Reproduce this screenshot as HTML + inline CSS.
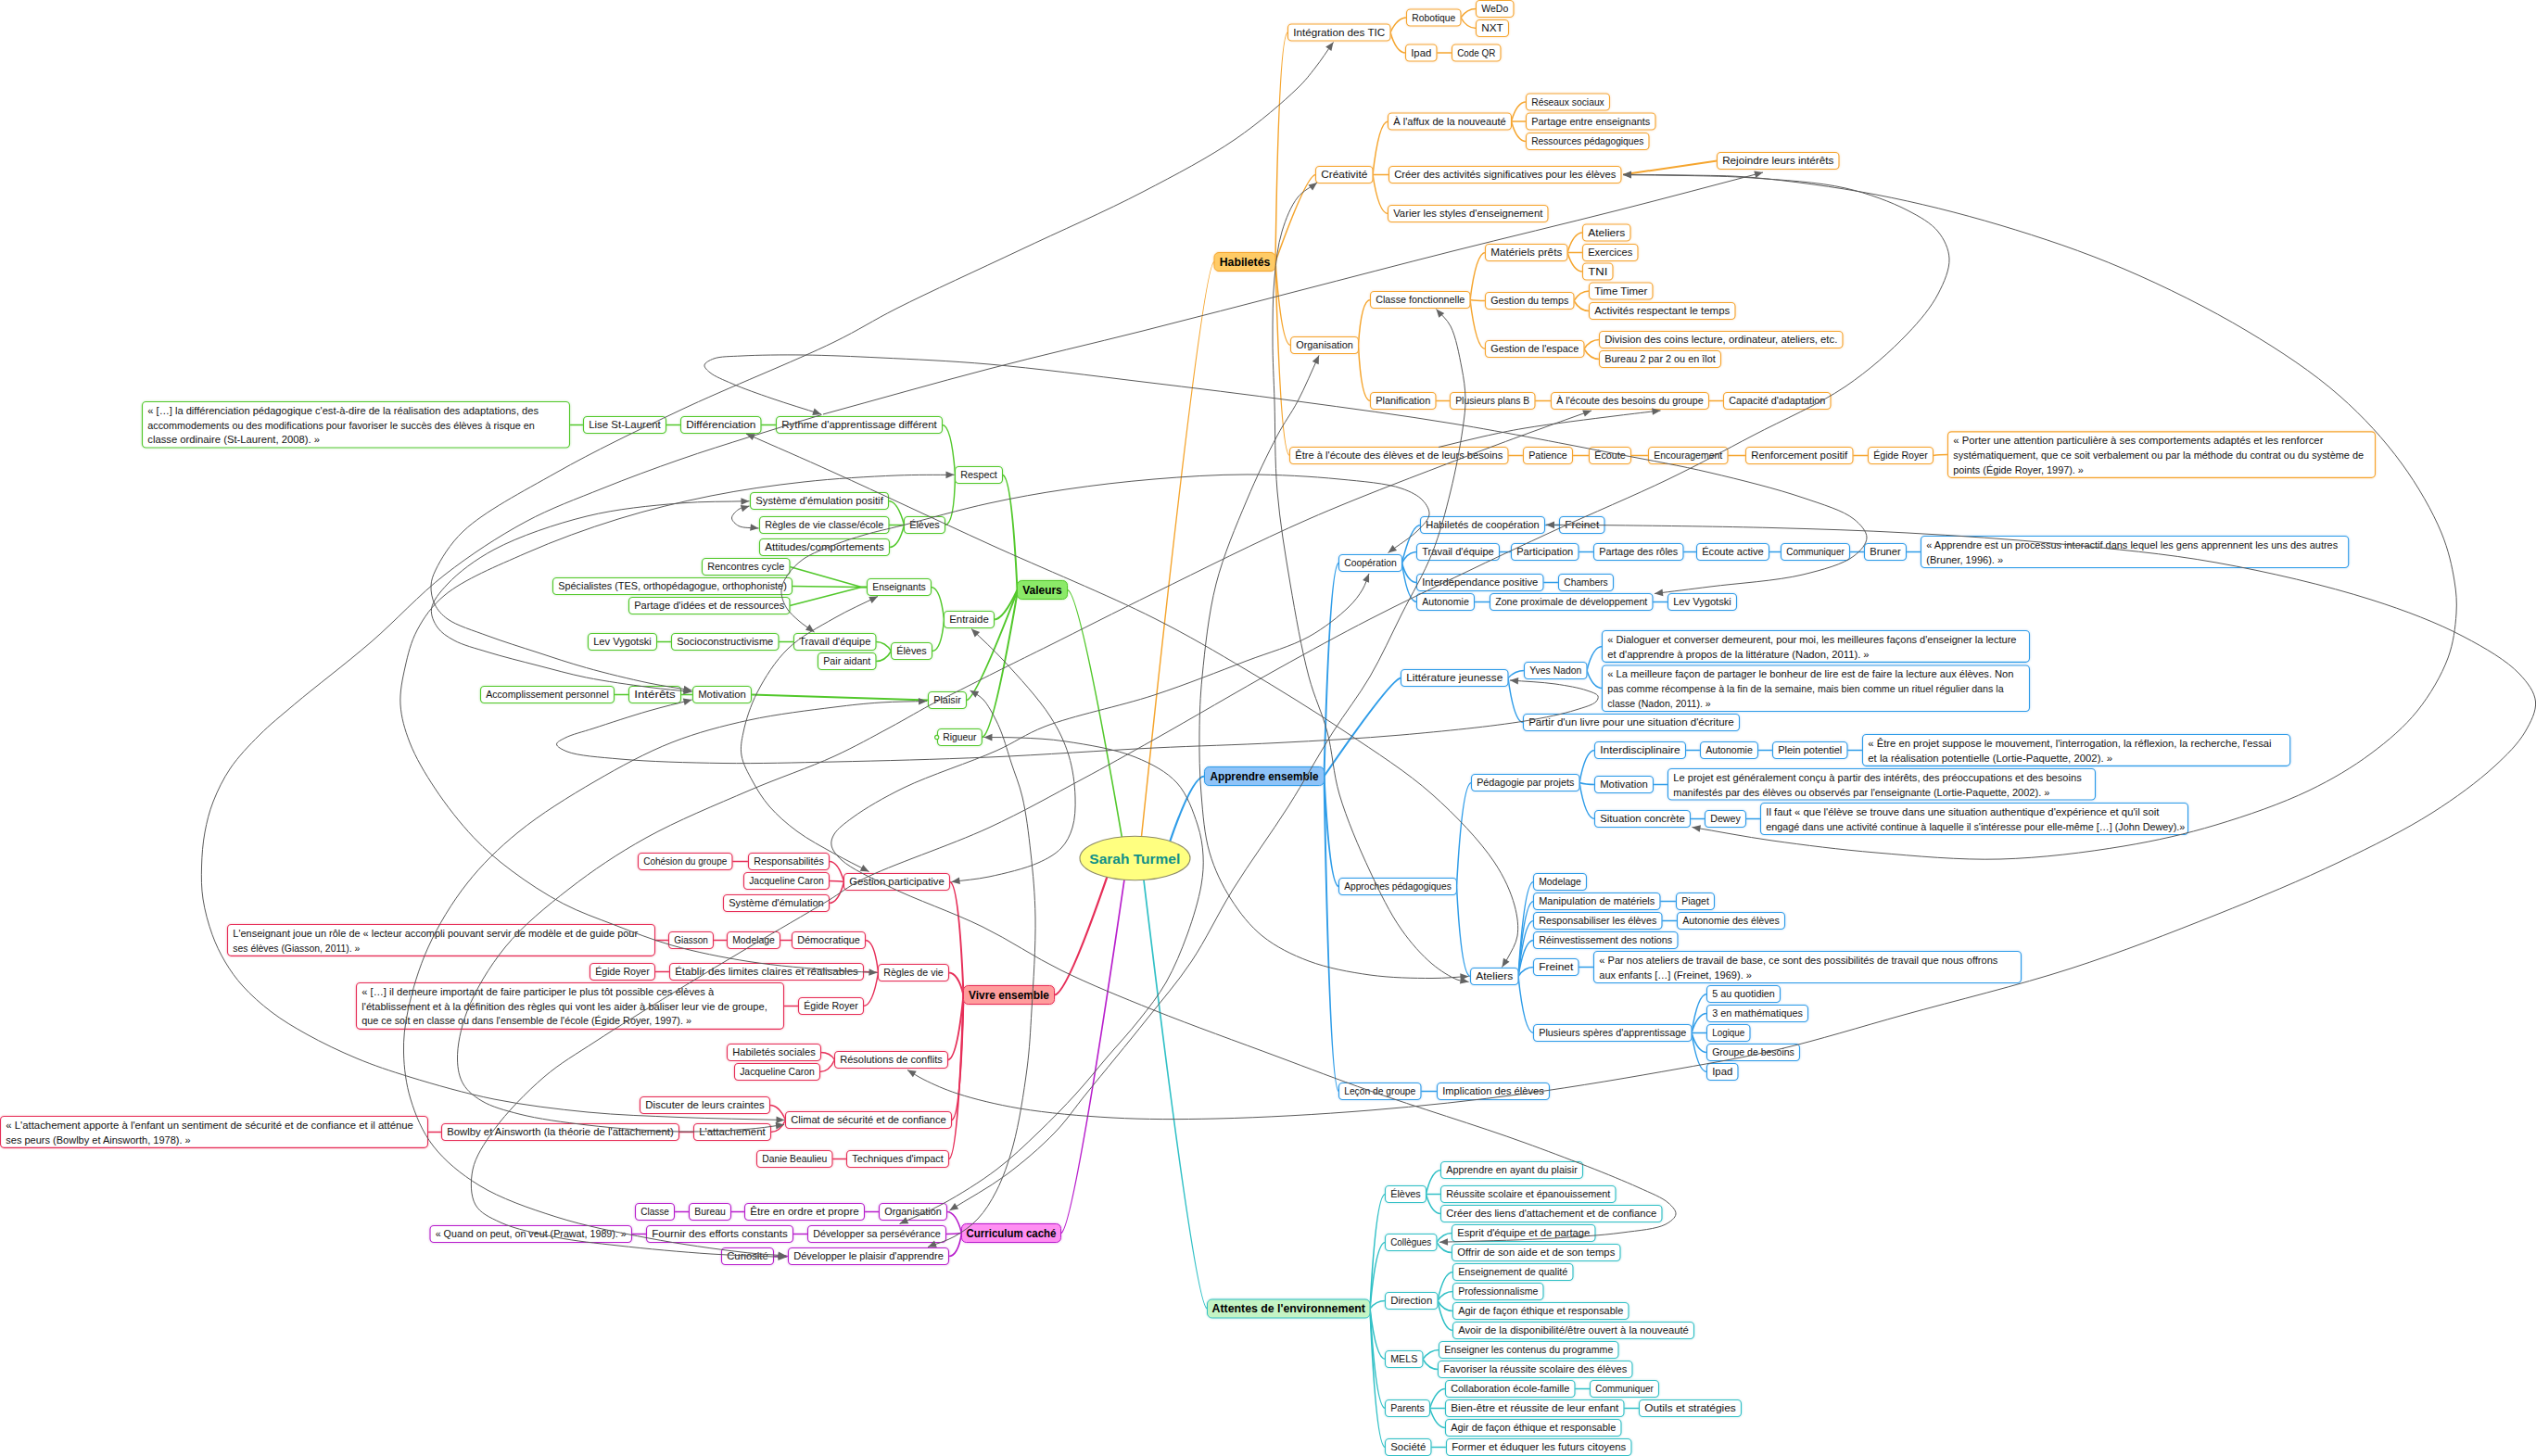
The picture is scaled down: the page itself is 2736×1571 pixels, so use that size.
<!DOCTYPE html>
<html lang="fr"><head><meta charset="utf-8"><title>Sarah Turmel</title>
<style>
html,body{margin:0;padding:0;background:#fff;overflow:hidden}
svg{display:block}
text{font-family:"Liberation Sans",sans-serif;font-size:10.9px;fill:#111}
.n{fill:#fff;stroke-width:1.15}
.e{fill:none;stroke-width:1.5;stroke-linecap:round}
.e2{fill:none;stroke-width:2;stroke-linecap:round}
.k{fill:none;stroke:#5a5a5a;stroke-width:1}
.a{fill:#636363;stroke:none}
.mt{font-weight:bold;font-size:12px;fill:#000}
.o{stroke:#F5A52E}
.b{stroke:#2E9CE8}
.g{stroke:#52C82B}
.r{stroke:#E62E58}
.m{stroke:#B81ECC}
.t{stroke:#30C0C6}
</style></head>
<body>
<svg width="2736" height="1571" viewBox="0 0 2736 1571">
<defs><filter id="gl" x="0" y="0" width="2736" height="1571" filterUnits="userSpaceOnUse"><feGaussianBlur in="SourceGraphic" stdDeviation="0.9" result="b"/><feComponentTransfer in="b" result="b2"><feFuncA type="linear" slope="0.55"/></feComponentTransfer><feMerge><feMergeNode in="b2"/><feMergeNode in="SourceGraphic"/></feMerge></filter></defs>
<rect width="2736" height="1571" fill="#fff"/>
<g id="branches">
<path class="e g" style="stroke-width:1.6" d="M1210.4 903.5 Q1164.5 636.5 1151.5 636.5"/>
<path class="e o" style="stroke-width:1.5" d="M1231.5 902.7 Q1297 282.5 1310 282.5"/>
<path class="e b" style="stroke-width:2.1" d="M1262.4 907.3 Q1286.5 837.5 1299.5 837.5"/>
<path class="e r" style="stroke-width:2.2" d="M1194.3 946.4 Q1150.5 1073.5 1137.5 1073.5"/>
<path class="e m" style="stroke-width:1.7" d="M1213.1 948.5 Q1157.5 1330.5 1144.5 1330.5"/>
<path class="e t" style="stroke-width:1.7" d="M1234 949.8 Q1289.5 1412 1302.5 1412"/>
</g>
<g id="edges">
<path class="e o" style="stroke-width:1.5" d="M1376 282.5 Q1379.5 35 1389.5 35"/>
<path class="e o" d="M1500 35 Q1507.5 19 1517.5 19"/>
<path class="e o" d="M1576 19 Q1582.5 9.5 1592.5 9.5"/>
<path class="e o" d="M1576 19 Q1582.5 30.5 1592.5 30.5"/>
<path class="e o" d="M1500 35 Q1506.5 57 1516.5 57"/>
<path class="e o" d="M1550 57 H1566.5"/>
<path class="e o" style="stroke-width:1.5" d="M1376 282.5 Q1409.5 188.5 1419.5 188.5"/>
<path class="e o" d="M1481 188.5 Q1487.5 131 1497.5 131"/>
<path class="e o" d="M1630.5 131 Q1636.5 110 1646.5 110"/>
<path class="e o" d="M1630.5 131 H1646.5"/>
<path class="e o" d="M1630.5 131 Q1636.5 152.5 1646.5 152.5"/>
<path class="e o" d="M1481 188.5 H1498.5"/>
<path class="e o" d="M1481 188.5 Q1487.5 230.5 1497.5 230.5"/>
<path class="e o" style="stroke-width:1.5" d="M1376 282.5 Q1382.5 372.5 1392.5 372.5"/>
<path class="e o" d="M1465.5 372.5 Q1468.5 323.5 1478.5 323.5"/>
<path class="e o" d="M1586 323.5 Q1592.5 272.5 1602.5 272.5"/>
<path class="e o" d="M1691 272.5 Q1697.5 251 1707.5 251"/>
<path class="e o" d="M1691 272.5 H1707.5"/>
<path class="e o" d="M1691 272.5 Q1697.5 293 1707.5 293"/>
<path class="e o" d="M1586 323.5 Q1592.5 324.5 1602.5 324.5"/>
<path class="e o" d="M1698 324.5 Q1704.5 314 1714.5 314"/>
<path class="e o" d="M1698 324.5 Q1704.5 335.5 1714.5 335.5"/>
<path class="e o" d="M1586 323.5 Q1592.5 376.5 1602.5 376.5"/>
<path class="e o" d="M1709 376.5 Q1715.5 366.5 1725.5 366.5"/>
<path class="e o" d="M1709 376.5 Q1715.5 387.5 1725.5 387.5"/>
<path class="e o" d="M1465.5 372.5 Q1468.5 432.5 1478.5 432.5"/>
<path class="e o" d="M1549 432.5 H1564.5"/>
<path class="e o" d="M1656 432.5 H1673.5"/>
<path class="e o" d="M1843.5 432.5 H1859.5"/>
<path class="e o" style="stroke-width:1.5" d="M1376 282.5 Q1381.5 491.5 1391.5 491.5"/>
<path class="e o" d="M1627 491.5 H1643.5"/>
<path class="e o" d="M1696.5 491.5 H1714.5"/>
<path class="e o" d="M1759.5 491.5 H1778.5"/>
<path class="e o" d="M1864 491.5 H1883.5"/>
<path class="e o" d="M1999 491.5 H2015.5"/>
<path class="e o" d="M2085.5 491.5 Q2091.5 490.5 2101.5 490.5"/>
<path class="e b" style="stroke-width:2.0" d="M1428.5 837.5 Q1434.5 607.5 1444.5 607.5"/>
<path class="e b" d="M1512.5 607.5 Q1522.5 566.5 1532.5 566.5"/>
<path class="e b" d="M1666.5 566.5 H1682.5"/>
<path class="e b" d="M1512.5 607.5 Q1518.5 595.5 1528.5 595.5"/>
<path class="e b" d="M1617.5 595.5 H1630.5"/>
<path class="e b" d="M1703 595.5 H1719.5"/>
<path class="e b" d="M1816 595.5 H1830.5"/>
<path class="e b" d="M1908.5 595.5 H1921.5"/>
<path class="e b" d="M1995.5 595.5 H2011.5"/>
<path class="e b" d="M2056.5 595.5 H2072.5"/>
<path class="e b" d="M1512.5 607.5 Q1518.5 628.5 1528.5 628.5"/>
<path class="e b" d="M1665 628.5 H1681.5"/>
<path class="e b" d="M1512.5 607.5 Q1518.5 649.5 1528.5 649.5"/>
<path class="e b" d="M1590.5 649.5 H1607.5"/>
<path class="e b" d="M1783 649.5 H1799.5"/>
<path class="e b" style="stroke-width:2.0" d="M1428.5 837.5 Q1501.5 731.5 1511.5 731.5"/>
<path class="e b" d="M1627 731.5 Q1634.5 723.5 1644.5 723.5"/>
<path class="e b" d="M1712 723.5 Q1718.5 697.5 1728.5 697.5"/>
<path class="e b" d="M1712 723.5 Q1718.5 742.5 1728.5 742.5"/>
<path class="e b" d="M1627 731.5 Q1633.5 779.5 1643.5 779.5"/>
<path class="e b" style="stroke-width:2.0" d="M1428.5 837.5 Q1434.5 956.5 1444.5 956.5"/>
<path class="e b" d="M1571.5 956.5 Q1577.5 844.5 1587.5 844.5"/>
<path class="e b" d="M1704 844.5 Q1710.5 809.5 1720.5 809.5"/>
<path class="e b" d="M1818.5 809.5 H1834.5"/>
<path class="e b" d="M1896.5 809.5 H1912.5"/>
<path class="e b" d="M1993 809.5 H2009.5"/>
<path class="e b" d="M1704 844.5 Q1710.5 846.5 1720.5 846.5"/>
<path class="e b" d="M1783.5 846.5 H1799.5"/>
<path class="e b" d="M1704 844.5 Q1710.5 883.5 1720.5 883.5"/>
<path class="e b" d="M1823.5 883.5 H1839.5"/>
<path class="e b" d="M1883.5 883.5 H1899.5"/>
<path class="e b" d="M1571.5 956.5 Q1576.5 1053.5 1586.5 1053.5"/>
<path class="e b" d="M1638 1053.5 Q1644.5 951.5 1654.5 951.5"/>
<path class="e b" d="M1638 1053.5 Q1644.5 972.5 1654.5 972.5"/>
<path class="e b" d="M1791 972.5 H1808.5"/>
<path class="e b" d="M1638 1053.5 Q1644.5 993.5 1654.5 993.5"/>
<path class="e b" d="M1793 993.5 H1809.5"/>
<path class="e b" d="M1638 1053.5 Q1644.5 1014.5 1654.5 1014.5"/>
<path class="e b" d="M1638 1053.5 Q1644.5 1043.5 1654.5 1043.5"/>
<path class="e b" d="M1703 1043.5 H1719.5"/>
<path class="e b" d="M1638 1053.5 Q1644.5 1114.5 1654.5 1114.5"/>
<path class="e b" d="M1825 1114.5 Q1831.5 1072.5 1841.5 1072.5"/>
<path class="e b" d="M1825 1114.5 Q1831.5 1093.5 1841.5 1093.5"/>
<path class="e b" d="M1825 1114.5 H1841.5"/>
<path class="e b" d="M1825 1114.5 Q1831.5 1135.5 1841.5 1135.5"/>
<path class="e b" d="M1825 1114.5 Q1831.5 1156.5 1841.5 1156.5"/>
<path class="e b" style="stroke-width:2.0" d="M1428.5 837.5 Q1434.5 1177.5 1444.5 1177.5"/>
<path class="e b" d="M1533 1177.5 H1550.5"/>
<path class="e t" style="stroke-width:1.6" d="M1478 1412 Q1484.5 1288.5 1494.5 1288.5"/>
<path class="e t" d="M1538.5 1288.5 Q1544.5 1262.5 1554.5 1262.5"/>
<path class="e t" d="M1538.5 1288.5 H1554.5"/>
<path class="e t" d="M1538.5 1288.5 Q1544.5 1309.5 1554.5 1309.5"/>
<path class="e t" style="stroke-width:1.6" d="M1478 1412 Q1484.5 1340.5 1494.5 1340.5"/>
<path class="e t" d="M1550 1340.5 Q1556.5 1330.5 1566.5 1330.5"/>
<path class="e t" d="M1550 1340.5 Q1556.5 1351.5 1566.5 1351.5"/>
<path class="e t" style="stroke-width:1.6" d="M1478 1412 Q1484.5 1403.5 1494.5 1403.5"/>
<path class="e t" d="M1551 1403.5 Q1557.5 1372.5 1567.5 1372.5"/>
<path class="e t" d="M1551 1403.5 Q1557.5 1393.5 1567.5 1393.5"/>
<path class="e t" d="M1551 1403.5 Q1557.5 1414.5 1567.5 1414.5"/>
<path class="e t" d="M1551 1403.5 Q1557.5 1435.5 1567.5 1435.5"/>
<path class="e t" style="stroke-width:1.6" d="M1478 1412 Q1484.5 1466.5 1494.5 1466.5"/>
<path class="e t" d="M1535 1466.5 Q1542.5 1456.5 1552.5 1456.5"/>
<path class="e t" d="M1535 1466.5 Q1541.5 1477.5 1551.5 1477.5"/>
<path class="e t" style="stroke-width:1.6" d="M1478 1412 Q1484.5 1519.5 1494.5 1519.5"/>
<path class="e t" d="M1542.5 1519.5 Q1549.5 1498.5 1559.5 1498.5"/>
<path class="e t" d="M1699 1498.5 H1715.5"/>
<path class="e t" d="M1542.5 1519.5 H1559.5"/>
<path class="e t" d="M1752 1519.5 H1768.5"/>
<path class="e t" d="M1542.5 1519.5 Q1549.5 1540.5 1559.5 1540.5"/>
<path class="e t" style="stroke-width:1.6" d="M1478 1412 Q1484.5 1561.5 1494.5 1561.5"/>
<path class="e t" d="M1544 1561.5 H1560.5"/>
<path class="e g" style="stroke-width:2.0" d="M1097.5 636.5 Q1091.5 512.5 1081.5 512.5"/>
<path class="e g" d="M1030.5 512.5 Q1026.5 458.5 1016.5 458.5"/>
<path class="e g" d="M837.5 458.5 H821"/>
<path class="e g" d="M734.5 458.5 H718.5"/>
<path class="e g" d="M629.5 458.5 H614.5"/>
<path class="e g" d="M1030.5 512.5 Q1029.5 566.5 1019.5 566.5"/>
<path class="e g" d="M975.5 566.5 Q968.5 540.5 958.5 540.5"/>
<path class="e g" d="M975.5 566.5 H959"/>
<path class="e g" d="M975.5 566.5 Q969.5 590.5 959.5 590.5"/>
<path class="e g" style="stroke-width:2.0" d="M1097.5 636.5 Q1082.5 668.5 1072.5 668.5"/>
<path class="e g" d="M1018.5 668.5 Q1014.5 633.5 1004.5 633.5"/>
<path class="e g" style="stroke-width:1.7" d="M935.5 633.5 L929.5 633.5 L852 611.5"/>
<path class="e g" style="stroke-width:1.7" d="M935.5 633.5 L929.5 633.5 L854.5 632.5"/>
<path class="e g" style="stroke-width:1.7" d="M935.5 633.5 L929.5 633.5 L852 653.5"/>
<path class="e g" d="M1018.5 668.5 Q1015.5 702.5 1005.5 702.5"/>
<path class="e g" d="M961.5 702.5 Q955 692.5 945 692.5"/>
<path class="e g" d="M856.5 692.5 H840"/>
<path class="e g" d="M724.5 692.5 H708.5"/>
<path class="e g" d="M961.5 702.5 Q955 713.5 945 713.5"/>
<path class="e g" d="M747.5 749.5 H734.5"/>
<path class="e g" d="M678.5 749.5 H662.5"/>
<path class="e r" style="stroke-width:2.0" d="M1039.5 1073.5 Q1034.5 951.5 1024.5 951.5"/>
<path class="e r" d="M910.5 951.5 Q904.5 929.5 894.5 929.5"/>
<path class="e r" d="M807.5 929.5 H790"/>
<path class="e r" d="M910.5 951.5 Q904.5 950.5 894.5 950.5"/>
<path class="e r" d="M910.5 951.5 Q904.5 974.5 894.5 974.5"/>
<path class="e r" style="stroke-width:2.0" d="M1039.5 1073.5 Q1033.5 1049.5 1023.5 1049.5"/>
<path class="e r" d="M947.5 1049.5 Q943.5 1014.5 933.5 1014.5"/>
<path class="e r" d="M854.5 1014.5 H841.5"/>
<path class="e r" d="M784.5 1014.5 H769.5"/>
<path class="e r" d="M721.5 1014.5 H706.5"/>
<path class="e r" d="M947.5 1049.5 Q941.5 1048.5 931.5 1048.5"/>
<path class="e r" d="M722.5 1048.5 H706.5"/>
<path class="e r" d="M947.5 1049.5 Q941.5 1085.5 931.5 1085.5"/>
<path class="e r" d="M861.5 1085.5 H845.5"/>
<path class="e r" style="stroke-width:2.0" d="M1039.5 1073.5 Q1032.5 1143.5 1022.5 1143.5"/>
<path class="e r" d="M900.5 1143.5 Q895.5 1135.5 885.5 1135.5"/>
<path class="e r" d="M900.5 1143.5 Q894.5 1156.5 884.5 1156.5"/>
<path class="e r" style="stroke-width:2.0" d="M1039.5 1073.5 Q1036.5 1208.5 1026.5 1208.5"/>
<path class="e r" d="M847.5 1208.5 Q840.5 1192.5 830.5 1192.5"/>
<path class="e r" d="M847.5 1208.5 Q841.5 1221.5 831.5 1221.5"/>
<path class="e r" d="M748.5 1221.5 H732.5"/>
<path class="e r" d="M476.5 1221.5 H461.5"/>
<path class="e r" style="stroke-width:2.0" d="M1039.5 1073.5 Q1033.5 1250.5 1023.5 1250.5"/>
<path class="e r" d="M913.5 1250.5 H898"/>
<path class="e m" style="stroke-width:1.6" d="M1037.5 1330.5 Q1031.5 1307.5 1021.5 1307.5"/>
<path class="e m" d="M948.5 1307.5 H932.5"/>
<path class="e m" d="M803.5 1307.5 H788.5"/>
<path class="e m" d="M743.5 1307.5 H727.5"/>
<path class="e m" style="stroke-width:1.6" d="M1037.5 1330.5 Q1030.5 1331.5 1020.5 1331.5"/>
<path class="e m" d="M871.5 1331.5 H855.5"/>
<path class="e m" d="M697.5 1331.5 H681.5"/>
<path class="e m" style="stroke-width:1.6" d="M1037.5 1330.5 Q1033.5 1355.5 1023.5 1355.5"/>
<path class="e m" d="M850.5 1355.5 H834.5"/>
<path class="e2 g" d="M1097.5 638 Q1052.5 755.5 1042.5 755.5"/>
<path class="e2 g" d="M1097.5 640 Q1071 795.5 1059.3 795.5"/>
<path class="e2 g" d="M810.5 749.5 L1001.5 755.5"/>
<path class="e2 o" d="M1852.5 173.5 L1752 188.2"/>
</g>
<g id="boxes" filter="url(#gl)">
<rect x="1310" y="272.5" width="66" height="20" rx="5" fill="#FFCB66" class="o" stroke-width="1"/>
<rect x="1389.5" y="26" width="110.5" height="18" rx="4" class="n o"/>
<rect x="1517.5" y="10" width="58.5" height="18" rx="4" class="n o"/>
<rect x="1592.5" y="0.5" width="40.5" height="18" rx="4" class="n o"/>
<rect x="1592.5" y="21.5" width="35" height="18" rx="4" class="n o"/>
<rect x="1516.5" y="48" width="33.5" height="18" rx="4" class="n o"/>
<rect x="1566.5" y="48" width="52.5" height="18" rx="4" class="n o"/>
<rect x="1419.5" y="179.5" width="61.5" height="18" rx="4" class="n o"/>
<rect x="1497.5" y="122" width="133" height="18" rx="4" class="n o"/>
<rect x="1646.5" y="101" width="90" height="18" rx="4" class="n o"/>
<rect x="1646.5" y="122" width="139.5" height="18" rx="4" class="n o"/>
<rect x="1646.5" y="143.5" width="132.5" height="18" rx="4" class="n o"/>
<rect x="1498.5" y="179.5" width="250.5" height="18" rx="4" class="n o"/>
<rect x="1852.5" y="164.5" width="131.5" height="18" rx="4" class="n o"/>
<rect x="1497.5" y="221.5" width="172.5" height="18" rx="4" class="n o"/>
<rect x="1392.5" y="363.5" width="73" height="18" rx="4" class="n o"/>
<rect x="1478.5" y="314.5" width="107.5" height="18" rx="4" class="n o"/>
<rect x="1602.5" y="263.5" width="88.5" height="18" rx="4" class="n o"/>
<rect x="1707.5" y="242" width="51.5" height="18" rx="4" class="n o"/>
<rect x="1707.5" y="263.5" width="59.5" height="18" rx="4" class="n o"/>
<rect x="1707.5" y="284" width="32.5" height="18" rx="4" class="n o"/>
<rect x="1602.5" y="315.5" width="95.5" height="18" rx="4" class="n o"/>
<rect x="1714.5" y="305" width="68.5" height="18" rx="4" class="n o"/>
<rect x="1714.5" y="326.5" width="157.5" height="18" rx="4" class="n o"/>
<rect x="1602.5" y="367.5" width="106.5" height="18" rx="4" class="n o"/>
<rect x="1725.5" y="357.5" width="262.5" height="18" rx="4" class="n o"/>
<rect x="1725.5" y="378.5" width="131" height="18" rx="4" class="n o"/>
<rect x="1478.5" y="423.5" width="70.5" height="18" rx="4" class="n o"/>
<rect x="1564.5" y="423.5" width="91.5" height="18" rx="4" class="n o"/>
<rect x="1673.5" y="423.5" width="170" height="18" rx="4" class="n o"/>
<rect x="1859.5" y="423.5" width="115.5" height="18" rx="4" class="n o"/>
<rect x="1391.5" y="482.5" width="235.5" height="18" rx="4" class="n o"/>
<rect x="1643.5" y="482.5" width="53" height="18" rx="4" class="n o"/>
<rect x="1714.5" y="482.5" width="45" height="18" rx="4" class="n o"/>
<rect x="1778.5" y="482.5" width="85.5" height="18" rx="4" class="n o"/>
<rect x="1883.5" y="482.5" width="115.5" height="18" rx="4" class="n o"/>
<rect x="2015.5" y="482.5" width="70" height="18" rx="4" class="n o"/>
<rect x="2101.5" y="465.8" width="461" height="49.5" rx="4" class="n o"/>
<rect x="1299.5" y="827.5" width="129" height="20" rx="5" fill="#8EC3F8" class="b" stroke-width="1"/>
<rect x="1444.5" y="598.5" width="68" height="18" rx="4" class="n b"/>
<rect x="1532.5" y="557.5" width="134" height="18" rx="4" class="n b"/>
<rect x="1682.5" y="557.5" width="48.5" height="18" rx="4" class="n b"/>
<rect x="1528.5" y="586.5" width="89" height="18" rx="4" class="n b"/>
<rect x="1630.5" y="586.5" width="72.5" height="18" rx="4" class="n b"/>
<rect x="1719.5" y="586.5" width="96.5" height="18" rx="4" class="n b"/>
<rect x="1830.5" y="586.5" width="78" height="18" rx="4" class="n b"/>
<rect x="1921.5" y="586.5" width="74" height="18" rx="4" class="n b"/>
<rect x="2011.5" y="586.5" width="45" height="18" rx="4" class="n b"/>
<rect x="2072.5" y="578.5" width="461.2" height="34" rx="4" class="n b"/>
<rect x="1528.5" y="619.5" width="136.5" height="18" rx="4" class="n b"/>
<rect x="1681.5" y="619.5" width="59" height="18" rx="4" class="n b"/>
<rect x="1528.5" y="640.5" width="62" height="18" rx="4" class="n b"/>
<rect x="1607.5" y="640.5" width="175.5" height="18" rx="4" class="n b"/>
<rect x="1799.5" y="640.5" width="74" height="18" rx="4" class="n b"/>
<rect x="1511.5" y="722.5" width="115.5" height="18" rx="4" class="n b"/>
<rect x="1644.5" y="714.5" width="67.5" height="18" rx="4" class="n b"/>
<rect x="1728.5" y="680.5" width="461" height="33.8" rx="4" class="n b"/>
<rect x="1728.5" y="718" width="461" height="49.5" rx="4" class="n b"/>
<rect x="1643.5" y="770.5" width="233" height="18" rx="4" class="n b"/>
<rect x="1444.5" y="947.5" width="127" height="18" rx="4" class="n b"/>
<rect x="1587.5" y="835.5" width="116.5" height="18" rx="4" class="n b"/>
<rect x="1720.5" y="800.5" width="98" height="18" rx="4" class="n b"/>
<rect x="1834.5" y="800.5" width="62" height="18" rx="4" class="n b"/>
<rect x="1912.5" y="800.5" width="80.5" height="18" rx="4" class="n b"/>
<rect x="2009.5" y="792.5" width="461.2" height="33.8" rx="4" class="n b"/>
<rect x="1720.5" y="837.5" width="63" height="18" rx="4" class="n b"/>
<rect x="1799.5" y="829.5" width="461" height="33.5" rx="4" class="n b"/>
<rect x="1720.5" y="874.5" width="103" height="18" rx="4" class="n b"/>
<rect x="1839.5" y="874.5" width="44" height="18" rx="4" class="n b"/>
<rect x="1899.5" y="866.5" width="461" height="34" rx="4" class="n b"/>
<rect x="1586.5" y="1044.5" width="51.5" height="18" rx="4" class="n b"/>
<rect x="1654.5" y="942.5" width="57" height="18" rx="4" class="n b"/>
<rect x="1654.5" y="963.5" width="136.5" height="18" rx="4" class="n b"/>
<rect x="1808.5" y="963.5" width="41" height="18" rx="4" class="n b"/>
<rect x="1654.5" y="984.5" width="138.5" height="18" rx="4" class="n b"/>
<rect x="1809.5" y="984.5" width="116" height="18" rx="4" class="n b"/>
<rect x="1654.5" y="1005.5" width="155.5" height="18" rx="4" class="n b"/>
<rect x="1654.5" y="1034.5" width="48.5" height="18" rx="4" class="n b"/>
<rect x="1719.5" y="1026.5" width="461" height="34" rx="4" class="n b"/>
<rect x="1654.5" y="1105.5" width="170.5" height="18" rx="4" class="n b"/>
<rect x="1841.5" y="1063.5" width="79" height="18" rx="4" class="n b"/>
<rect x="1841.5" y="1084.5" width="109" height="18" rx="4" class="n b"/>
<rect x="1841.5" y="1105.5" width="46.5" height="18" rx="4" class="n b"/>
<rect x="1841.5" y="1126.5" width="100" height="18" rx="4" class="n b"/>
<rect x="1841.5" y="1147.5" width="33.5" height="18" rx="4" class="n b"/>
<rect x="1444.5" y="1168.5" width="88.5" height="18" rx="4" class="n b"/>
<rect x="1550.5" y="1168.5" width="121" height="18" rx="4" class="n b"/>
<rect x="1302.5" y="1402" width="175.5" height="20" rx="5" fill="#C4F4C4" class="t" stroke-width="1"/>
<rect x="1494.5" y="1279.5" width="44" height="18" rx="4" class="n t"/>
<rect x="1554.5" y="1253.5" width="153" height="18" rx="4" class="n t"/>
<rect x="1554.5" y="1279.5" width="188.5" height="18" rx="4" class="n t"/>
<rect x="1554.5" y="1300.5" width="238.5" height="18" rx="4" class="n t"/>
<rect x="1494.5" y="1331.5" width="55.5" height="18" rx="4" class="n t"/>
<rect x="1566.5" y="1321.5" width="154.5" height="18" rx="4" class="n t"/>
<rect x="1566.5" y="1342.5" width="181.5" height="18" rx="4" class="n t"/>
<rect x="1494.5" y="1394.5" width="56.5" height="18" rx="4" class="n t"/>
<rect x="1567.5" y="1363.5" width="129.5" height="18" rx="4" class="n t"/>
<rect x="1567.5" y="1384.5" width="97.5" height="18" rx="4" class="n t"/>
<rect x="1567.5" y="1405.5" width="189.5" height="18" rx="4" class="n t"/>
<rect x="1567.5" y="1426.5" width="260" height="18" rx="4" class="n t"/>
<rect x="1494.5" y="1457.5" width="40.5" height="18" rx="4" class="n t"/>
<rect x="1552.5" y="1447.5" width="193.5" height="18" rx="4" class="n t"/>
<rect x="1551.5" y="1468.5" width="209.5" height="18" rx="4" class="n t"/>
<rect x="1494.5" y="1510.5" width="48" height="18" rx="4" class="n t"/>
<rect x="1559.5" y="1489.5" width="139.5" height="18" rx="4" class="n t"/>
<rect x="1715.5" y="1489.5" width="74" height="18" rx="4" class="n t"/>
<rect x="1559.5" y="1510.5" width="192.5" height="18" rx="4" class="n t"/>
<rect x="1768.5" y="1510.5" width="110" height="18" rx="4" class="n t"/>
<rect x="1559.5" y="1531.5" width="189.5" height="18" rx="4" class="n t"/>
<rect x="1494.5" y="1552.5" width="49.5" height="18" rx="4" class="n t"/>
<rect x="1560.5" y="1552.5" width="199.5" height="18" rx="4" class="n t"/>
<rect x="1097.5" y="626.5" width="54" height="20" rx="5" fill="#8BEA68" class="g" stroke-width="1"/>
<rect x="1030.5" y="503.5" width="51" height="18" rx="4" class="n g"/>
<rect x="837.5" y="449.5" width="179" height="18" rx="4" class="n g"/>
<rect x="734.5" y="449.5" width="86.5" height="18" rx="4" class="n g"/>
<rect x="629.5" y="449.5" width="89" height="18" rx="4" class="n g"/>
<rect x="153.5" y="433.5" width="461" height="49.5" rx="4" class="n g"/>
<rect x="975.5" y="557.5" width="44" height="18" rx="4" class="n g"/>
<rect x="809.5" y="531.5" width="149" height="18" rx="4" class="n g"/>
<rect x="819.5" y="557.5" width="139.5" height="18" rx="4" class="n g"/>
<rect x="819.5" y="581.5" width="140" height="18" rx="4" class="n g"/>
<rect x="1018.5" y="659.5" width="54" height="18" rx="4" class="n g"/>
<rect x="935.5" y="624.5" width="69" height="18" rx="4" class="n g"/>
<rect x="757.5" y="602.5" width="94.5" height="18" rx="4" class="n g"/>
<rect x="596.5" y="623.5" width="258" height="18" rx="4" class="n g"/>
<rect x="678.5" y="644.5" width="173.5" height="18" rx="4" class="n g"/>
<rect x="961.5" y="693.5" width="44" height="18" rx="4" class="n g"/>
<rect x="856.5" y="683.5" width="88.5" height="18" rx="4" class="n g"/>
<rect x="724.5" y="683.5" width="115.5" height="18" rx="4" class="n g"/>
<rect x="634.5" y="683.5" width="74" height="18" rx="4" class="n g"/>
<rect x="882.5" y="704.5" width="62.5" height="18" rx="4" class="n g"/>
<rect x="1001.5" y="746.5" width="41" height="18" rx="4" class="n g"/>
<rect x="747.5" y="740.5" width="63" height="18" rx="4" class="n g"/>
<rect x="678.5" y="740.5" width="56" height="18" rx="4" class="n g"/>
<rect x="518.5" y="740.5" width="144" height="18" rx="4" class="n g"/>
<rect x="1011.5" y="786.5" width="47.8" height="18" rx="4" class="n g"/>
<rect x="1039.5" y="1063.5" width="98" height="20" rx="5" fill="#FF9C9C" class="r" stroke-width="1"/>
<rect x="910.5" y="942.5" width="114" height="18" rx="4" class="n r"/>
<rect x="807.5" y="920.5" width="87" height="18" rx="4" class="n r"/>
<rect x="688.5" y="920.5" width="101.5" height="18" rx="4" class="n r"/>
<rect x="802.5" y="941.5" width="92" height="18" rx="4" class="n r"/>
<rect x="780.5" y="965.5" width="114" height="18" rx="4" class="n r"/>
<rect x="947.5" y="1040.5" width="76" height="18" rx="4" class="n r"/>
<rect x="854.5" y="1005.5" width="79" height="18" rx="4" class="n r"/>
<rect x="784.5" y="1005.5" width="57" height="18" rx="4" class="n r"/>
<rect x="721.5" y="1005.5" width="48" height="18" rx="4" class="n r"/>
<rect x="245.5" y="997.5" width="461" height="33.8" rx="4" class="n r"/>
<rect x="722.5" y="1039.5" width="209" height="18" rx="4" class="n r"/>
<rect x="636.5" y="1039.5" width="70" height="18" rx="4" class="n r"/>
<rect x="861.5" y="1076.5" width="70" height="18" rx="4" class="n r"/>
<rect x="384.5" y="1060.5" width="461" height="49.8" rx="4" class="n r"/>
<rect x="900.5" y="1134.5" width="122" height="18" rx="4" class="n r"/>
<rect x="784.5" y="1126.5" width="101" height="18" rx="4" class="n r"/>
<rect x="792.5" y="1147.5" width="92" height="18" rx="4" class="n r"/>
<rect x="847.5" y="1199.5" width="179" height="18" rx="4" class="n r"/>
<rect x="690.5" y="1183.5" width="140" height="18" rx="4" class="n r"/>
<rect x="748.5" y="1212.5" width="83" height="18" rx="4" class="n r"/>
<rect x="476.5" y="1212.5" width="256" height="18" rx="4" class="n r"/>
<rect x="0.5" y="1204.5" width="461" height="33.8" rx="4" class="n r"/>
<rect x="913.5" y="1241.5" width="110" height="18" rx="4" class="n r"/>
<rect x="816.5" y="1241.5" width="81.5" height="18" rx="4" class="n r"/>
<rect x="1037.5" y="1320.5" width="107" height="20" rx="5" fill="#FF8EF2" class="m" stroke-width="1"/>
<rect x="948.5" y="1298.5" width="73" height="18" rx="4" class="n m"/>
<rect x="803.5" y="1298.5" width="129" height="18" rx="4" class="n m"/>
<rect x="743.5" y="1298.5" width="45" height="18" rx="4" class="n m"/>
<rect x="685.5" y="1298.5" width="42" height="18" rx="4" class="n m"/>
<rect x="871.5" y="1322.5" width="149" height="18" rx="4" class="n m"/>
<rect x="697.5" y="1322.5" width="158" height="18" rx="4" class="n m"/>
<rect x="464" y="1322.5" width="217.5" height="18" rx="4" class="n m"/>
<rect x="850.5" y="1346.5" width="173" height="18" rx="4" class="n m"/>
<rect x="778.5" y="1346.5" width="56" height="18" rx="4" class="n m"/>
</g>
<circle cx="1010.7" cy="795.5" r="2.1" class="n g"/>
<g id="labels">
<text class="mt" x="1343" y="286.8" text-anchor="middle" textLength="54.6" lengthAdjust="spacingAndGlyphs">Habiletés</text>
<text x="1395.2" y="38.9" textLength="99.1" lengthAdjust="spacingAndGlyphs">Intégration des TIC</text>
<text x="1523.2" y="22.9" textLength="47.1" lengthAdjust="spacingAndGlyphs">Robotique</text>
<text x="1598.2" y="13.4" textLength="29.1" lengthAdjust="spacingAndGlyphs">WeDo</text>
<text x="1598.2" y="34.4" textLength="23.6" lengthAdjust="spacingAndGlyphs">NXT</text>
<text x="1522.2" y="60.9" textLength="22.1" lengthAdjust="spacingAndGlyphs">Ipad</text>
<text x="1572.2" y="60.9" textLength="41.1" lengthAdjust="spacingAndGlyphs">Code QR</text>
<text x="1425.2" y="192.4" textLength="50.1" lengthAdjust="spacingAndGlyphs">Créativité</text>
<text x="1503.2" y="134.9" textLength="121.6" lengthAdjust="spacingAndGlyphs">À l&#x27;affux de la nouveauté</text>
<text x="1652.2" y="113.9" textLength="78.6" lengthAdjust="spacingAndGlyphs">Réseaux sociaux</text>
<text x="1652.2" y="134.9" textLength="128.1" lengthAdjust="spacingAndGlyphs">Partage entre enseignants</text>
<text x="1652.2" y="156.4" textLength="121.1" lengthAdjust="spacingAndGlyphs">Ressources pédagogiques</text>
<text x="1504.2" y="192.4" textLength="239.1" lengthAdjust="spacingAndGlyphs">Créer des activités significatives pour les élèves</text>
<text x="1858.2" y="177.4" textLength="120.1" lengthAdjust="spacingAndGlyphs">Rejoindre leurs intérêts</text>
<text x="1503.2" y="234.4" textLength="161.1" lengthAdjust="spacingAndGlyphs">Varier les styles d&#x27;enseignement</text>
<text x="1398.2" y="376.4" textLength="61.6" lengthAdjust="spacingAndGlyphs">Organisation</text>
<text x="1484.2" y="327.4" textLength="96.1" lengthAdjust="spacingAndGlyphs">Classe fonctionnelle</text>
<text x="1608.2" y="276.4" textLength="77.1" lengthAdjust="spacingAndGlyphs">Matériels prêts</text>
<text x="1713.2" y="254.9" textLength="40.1" lengthAdjust="spacingAndGlyphs">Ateliers</text>
<text x="1713.2" y="276.4" textLength="48.1" lengthAdjust="spacingAndGlyphs">Exercices</text>
<text x="1713.2" y="296.9" textLength="21.1" lengthAdjust="spacingAndGlyphs">TNI</text>
<text x="1608.2" y="328.4" textLength="84.1" lengthAdjust="spacingAndGlyphs">Gestion du temps</text>
<text x="1720.2" y="317.9" textLength="57.1" lengthAdjust="spacingAndGlyphs">Time Timer</text>
<text x="1720.2" y="339.4" textLength="146.1" lengthAdjust="spacingAndGlyphs">Activités respectant le temps</text>
<text x="1608.2" y="380.4" textLength="95.1" lengthAdjust="spacingAndGlyphs">Gestion de l&#x27;espace</text>
<text x="1731.2" y="370.4" textLength="251.1" lengthAdjust="spacingAndGlyphs">Division des coins lecture, ordinateur, ateliers, etc.</text>
<text x="1731.2" y="391.4" textLength="119.6" lengthAdjust="spacingAndGlyphs">Bureau 2 par 2 ou en îlot</text>
<text x="1484.2" y="436.4" textLength="59.1" lengthAdjust="spacingAndGlyphs">Planification</text>
<text x="1570.2" y="436.4" textLength="80.1" lengthAdjust="spacingAndGlyphs">Plusieurs plans B</text>
<text x="1679.2" y="436.4" textLength="158.6" lengthAdjust="spacingAndGlyphs">À l&#x27;écoute des besoins du groupe</text>
<text x="1865.2" y="436.4" textLength="104.1" lengthAdjust="spacingAndGlyphs">Capacité d&#x27;adaptation</text>
<text x="1397.2" y="495.4" textLength="224.1" lengthAdjust="spacingAndGlyphs">Être à l&#x27;écoute des élèves et de leurs besoins</text>
<text x="1649.2" y="495.4" textLength="41.6" lengthAdjust="spacingAndGlyphs">Patience</text>
<text x="1720.2" y="495.4" textLength="33.6" lengthAdjust="spacingAndGlyphs">Écoute</text>
<text x="1784.2" y="495.4" textLength="74.1" lengthAdjust="spacingAndGlyphs">Encouragement</text>
<text x="1889.2" y="495.4" textLength="104.1" lengthAdjust="spacingAndGlyphs">Renforcement positif</text>
<text x="2021.2" y="495.4" textLength="58.6" lengthAdjust="spacingAndGlyphs">Égide Royer</text>
<text x="2107.3" y="479.1" textLength="399.1" lengthAdjust="spacingAndGlyphs">« Porter une attention particulière à ses comportements adaptés et les renforcer</text>
<text x="2107.3" y="494.9" textLength="442.8" lengthAdjust="spacingAndGlyphs">systématiquement, que ce soit verbalement ou par la méthode du contrat ou du système de</text>
<text x="2107.3" y="510.6" textLength="140.6" lengthAdjust="spacingAndGlyphs">points (Égide Royer, 1997). »</text>
<text class="mt" x="1364" y="841.8" text-anchor="middle" textLength="117" lengthAdjust="spacingAndGlyphs">Apprendre ensemble</text>
<text x="1450.2" y="611.4" textLength="56.6" lengthAdjust="spacingAndGlyphs">Coopération</text>
<text x="1538.2" y="570.4" textLength="122.6" lengthAdjust="spacingAndGlyphs">Habiletés de coopération</text>
<text x="1688.2" y="570.4" textLength="37.1" lengthAdjust="spacingAndGlyphs">Freinet</text>
<text x="1534.2" y="599.4" textLength="77.6" lengthAdjust="spacingAndGlyphs">Travail d&#x27;équipe</text>
<text x="1636.2" y="599.4" textLength="61.1" lengthAdjust="spacingAndGlyphs">Participation</text>
<text x="1725.2" y="599.4" textLength="85.1" lengthAdjust="spacingAndGlyphs">Partage des rôles</text>
<text x="1836.2" y="599.4" textLength="66.6" lengthAdjust="spacingAndGlyphs">Écoute active</text>
<text x="1927.2" y="599.4" textLength="62.6" lengthAdjust="spacingAndGlyphs">Communiquer</text>
<text x="2017.2" y="599.4" textLength="33.6" lengthAdjust="spacingAndGlyphs">Bruner</text>
<text x="2078.3" y="591.9" textLength="443.9" lengthAdjust="spacingAndGlyphs">« Apprendre est un processus interactif dans lequel les gens apprennent les uns des autres</text>
<text x="2078.3" y="607.6" textLength="82.8" lengthAdjust="spacingAndGlyphs">(Bruner, 1996). »</text>
<text x="1534.2" y="632.4" textLength="125.1" lengthAdjust="spacingAndGlyphs">Interdépendance positive</text>
<text x="1687.2" y="632.4" textLength="47.6" lengthAdjust="spacingAndGlyphs">Chambers</text>
<text x="1534.2" y="653.4" textLength="50.6" lengthAdjust="spacingAndGlyphs">Autonomie</text>
<text x="1613.2" y="653.4" textLength="164.1" lengthAdjust="spacingAndGlyphs">Zone proximale de développement</text>
<text x="1805.2" y="653.4" textLength="62.6" lengthAdjust="spacingAndGlyphs">Lev Vygotski</text>
<text x="1517.2" y="735.4" textLength="104.1" lengthAdjust="spacingAndGlyphs">Littérature jeunesse</text>
<text x="1650.2" y="727.4" textLength="56.1" lengthAdjust="spacingAndGlyphs">Yves Nadon</text>
<text x="1734.3" y="693.9" textLength="441.2" lengthAdjust="spacingAndGlyphs">« Dialoguer et converser demeurent, pour moi, les meilleures façons d&#x27;enseigner la lecture</text>
<text x="1734.3" y="709.6" textLength="282.3" lengthAdjust="spacingAndGlyphs">et d&#x27;apprendre à propos de la littérature (Nadon, 2011). »</text>
<text x="1734.3" y="731.4" textLength="438.2" lengthAdjust="spacingAndGlyphs">« La meilleure façon de partager le bonheur de lire est de faire la lecture aux élèves. Non</text>
<text x="1734.3" y="747.1" textLength="427.3" lengthAdjust="spacingAndGlyphs">pas comme récompense à la fin de la semaine, mais bien comme un rituel régulier dans la</text>
<text x="1734.3" y="762.9" textLength="111.4" lengthAdjust="spacingAndGlyphs">classe (Nadon, 2011). »</text>
<text x="1649.2" y="783.4" textLength="221.6" lengthAdjust="spacingAndGlyphs">Partir d&#x27;un livre pour une situation d&#x27;écriture</text>
<text x="1450.2" y="960.4" textLength="115.6" lengthAdjust="spacingAndGlyphs">Approches pédagogiques</text>
<text x="1593.2" y="848.4" textLength="105.1" lengthAdjust="spacingAndGlyphs">Pédagogie par projets</text>
<text x="1726.2" y="813.4" textLength="86.6" lengthAdjust="spacingAndGlyphs">Interdisciplinaire</text>
<text x="1840.2" y="813.4" textLength="50.6" lengthAdjust="spacingAndGlyphs">Autonomie</text>
<text x="1918.2" y="813.4" textLength="69.1" lengthAdjust="spacingAndGlyphs">Plein potentiel</text>
<text x="2015.3" y="805.9" textLength="435.2" lengthAdjust="spacingAndGlyphs">« Être en projet suppose le mouvement, l&#x27;interrogation, la réflexion, la recherche, l&#x27;essai</text>
<text x="2015.3" y="821.6" textLength="263.8" lengthAdjust="spacingAndGlyphs">et la réalisation potentielle (Lortie-Paquette, 2002). »</text>
<text x="1726.2" y="850.4" textLength="51.6" lengthAdjust="spacingAndGlyphs">Motivation</text>
<text x="1805.3" y="842.9" textLength="440.4" lengthAdjust="spacingAndGlyphs">Le projet est généralement conçu à partir des intérêts, des préoccupations et des besoins</text>
<text x="1805.3" y="858.6" textLength="406.1" lengthAdjust="spacingAndGlyphs">manifestés par des élèves ou observés par l&#x27;enseignante (Lortie-Paquette, 2002). »</text>
<text x="1726.2" y="887.4" textLength="91.6" lengthAdjust="spacingAndGlyphs">Situation concrète</text>
<text x="1845.2" y="887.4" textLength="32.6" lengthAdjust="spacingAndGlyphs">Dewey</text>
<text x="1905.3" y="879.9" textLength="424.1" lengthAdjust="spacingAndGlyphs">Il faut « que l&#x27;élève se trouve dans une situation authentique d&#x27;expérience et qu&#x27;il soit</text>
<text x="1905.3" y="895.6" textLength="452.1" lengthAdjust="spacingAndGlyphs">engagé dans une activité continue à laquelle il s&#x27;intéresse pour elle-même […] (John Dewey).»</text>
<text x="1592.2" y="1057.4" textLength="40.1" lengthAdjust="spacingAndGlyphs">Ateliers</text>
<text x="1660.2" y="955.4" textLength="45.6" lengthAdjust="spacingAndGlyphs">Modelage</text>
<text x="1660.2" y="976.4" textLength="125.1" lengthAdjust="spacingAndGlyphs">Manipulation de matériels</text>
<text x="1814.2" y="976.4" textLength="29.6" lengthAdjust="spacingAndGlyphs">Piaget</text>
<text x="1660.2" y="997.4" textLength="127.1" lengthAdjust="spacingAndGlyphs">Responsabiliser les élèves</text>
<text x="1815.2" y="997.4" textLength="104.6" lengthAdjust="spacingAndGlyphs">Autonomie des élèves</text>
<text x="1660.2" y="1018.4" textLength="144.1" lengthAdjust="spacingAndGlyphs">Réinvestissement des notions</text>
<text x="1660.2" y="1047.4" textLength="37.1" lengthAdjust="spacingAndGlyphs">Freinet</text>
<text x="1725.3" y="1039.9" textLength="430.1" lengthAdjust="spacingAndGlyphs">« Par nos ateliers de travail de base, ce sont des possibilités de travail que nous offrons</text>
<text x="1725.3" y="1055.7" textLength="164.6" lengthAdjust="spacingAndGlyphs">aux enfants […] (Freinet, 1969). »</text>
<text x="1660.2" y="1118.4" textLength="159.1" lengthAdjust="spacingAndGlyphs">Plusieurs spères d&#x27;apprentissage</text>
<text x="1847.2" y="1076.4" textLength="67.6" lengthAdjust="spacingAndGlyphs">5 au quotidien</text>
<text x="1847.2" y="1097.4" textLength="97.6" lengthAdjust="spacingAndGlyphs">3 en mathématiques</text>
<text x="1847.2" y="1118.4" textLength="35.1" lengthAdjust="spacingAndGlyphs">Logique</text>
<text x="1847.2" y="1139.4" textLength="88.6" lengthAdjust="spacingAndGlyphs">Groupe de besoins</text>
<text x="1847.2" y="1160.4" textLength="22.1" lengthAdjust="spacingAndGlyphs">Ipad</text>
<text x="1450.2" y="1181.4" textLength="77.1" lengthAdjust="spacingAndGlyphs">Leçon de groupe</text>
<text x="1556.2" y="1181.4" textLength="109.6" lengthAdjust="spacingAndGlyphs">Implication des élèves</text>
<text class="mt" x="1390.2" y="1416.3" text-anchor="middle" textLength="165.4" lengthAdjust="spacingAndGlyphs">Attentes de l&#x27;environnement</text>
<text x="1500.2" y="1292.4" textLength="32.6" lengthAdjust="spacingAndGlyphs">Élèves</text>
<text x="1560.2" y="1266.4" textLength="141.6" lengthAdjust="spacingAndGlyphs">Apprendre en ayant du plaisir</text>
<text x="1560.2" y="1292.4" textLength="177.1" lengthAdjust="spacingAndGlyphs">Réussite scolaire et épanouissement</text>
<text x="1560.2" y="1313.4" textLength="227.1" lengthAdjust="spacingAndGlyphs">Créer des liens d&#x27;attachement et de confiance</text>
<text x="1500.2" y="1344.4" textLength="44.1" lengthAdjust="spacingAndGlyphs">Collègues</text>
<text x="1572.2" y="1334.4" textLength="143.1" lengthAdjust="spacingAndGlyphs">Esprit d&#x27;équipe et de partage</text>
<text x="1572.2" y="1355.4" textLength="170.1" lengthAdjust="spacingAndGlyphs">Offrir de son aide et de son temps</text>
<text x="1500.2" y="1407.4" textLength="45.1" lengthAdjust="spacingAndGlyphs">Direction</text>
<text x="1573.2" y="1376.4" textLength="118.1" lengthAdjust="spacingAndGlyphs">Enseignement de qualité</text>
<text x="1573.2" y="1397.4" textLength="86.1" lengthAdjust="spacingAndGlyphs">Professionnalisme</text>
<text x="1573.2" y="1418.4" textLength="178.1" lengthAdjust="spacingAndGlyphs">Agir de façon éthique et responsable</text>
<text x="1573.2" y="1439.4" textLength="248.6" lengthAdjust="spacingAndGlyphs">Avoir de la disponibilité/être ouvert à la nouveauté</text>
<text x="1500.2" y="1470.4" textLength="29.1" lengthAdjust="spacingAndGlyphs">MELS</text>
<text x="1558.2" y="1460.4" textLength="182.1" lengthAdjust="spacingAndGlyphs">Enseigner les contenus du programme</text>
<text x="1557.2" y="1481.4" textLength="198.1" lengthAdjust="spacingAndGlyphs">Favoriser la réussite scolaire des élèves</text>
<text x="1500.2" y="1523.4" textLength="36.6" lengthAdjust="spacingAndGlyphs">Parents</text>
<text x="1565.2" y="1502.4" textLength="128.1" lengthAdjust="spacingAndGlyphs">Collaboration école-famille</text>
<text x="1721.2" y="1502.4" textLength="62.6" lengthAdjust="spacingAndGlyphs">Communiquer</text>
<text x="1565.2" y="1523.4" textLength="181.1" lengthAdjust="spacingAndGlyphs">Bien-être et réussite de leur enfant</text>
<text x="1774.2" y="1523.4" textLength="98.6" lengthAdjust="spacingAndGlyphs">Outils et stratégies</text>
<text x="1565.2" y="1544.4" textLength="178.1" lengthAdjust="spacingAndGlyphs">Agir de façon éthique et responsable</text>
<text x="1500.2" y="1565.4" textLength="38.1" lengthAdjust="spacingAndGlyphs">Société</text>
<text x="1566.2" y="1565.4" textLength="188.1" lengthAdjust="spacingAndGlyphs">Former et éduquer les futurs citoyens</text>
<text class="mt" x="1124.5" y="640.8" text-anchor="middle" textLength="42.6" lengthAdjust="spacingAndGlyphs">Valeurs</text>
<text x="1036.2" y="516.4" textLength="39.6" lengthAdjust="spacingAndGlyphs">Respect</text>
<text x="843.2" y="462.4" textLength="167.6" lengthAdjust="spacingAndGlyphs">Rythme d&#x27;apprentissage différent</text>
<text x="740.2" y="462.4" textLength="75.1" lengthAdjust="spacingAndGlyphs">Différenciation</text>
<text x="635.2" y="462.4" textLength="77.6" lengthAdjust="spacingAndGlyphs">Lise St-Laurent</text>
<text x="159.3" y="446.9" textLength="421.7" lengthAdjust="spacingAndGlyphs">« […] la différenciation pédagogique c&#x27;est-à-dire de la réalisation des adaptations, des</text>
<text x="159.3" y="462.6" textLength="417.5" lengthAdjust="spacingAndGlyphs">accommodements ou des modifications pour favoriser le succès des élèves à risque en</text>
<text x="159.3" y="478.4" textLength="185.6" lengthAdjust="spacingAndGlyphs">classe ordinaire (St-Laurent, 2008). »</text>
<text x="981.2" y="570.4" textLength="32.6" lengthAdjust="spacingAndGlyphs">Élèves</text>
<text x="815.2" y="544.4" textLength="137.6" lengthAdjust="spacingAndGlyphs">Système d&#x27;émulation positif</text>
<text x="825.2" y="570.4" textLength="128.1" lengthAdjust="spacingAndGlyphs">Règles de vie classe/école</text>
<text x="825.2" y="594.4" textLength="128.6" lengthAdjust="spacingAndGlyphs">Attitudes/comportements</text>
<text x="1024.2" y="672.4" textLength="42.6" lengthAdjust="spacingAndGlyphs">Entraide</text>
<text x="941.2" y="637.4" textLength="57.6" lengthAdjust="spacingAndGlyphs">Enseignants</text>
<text x="763.2" y="615.4" textLength="83.1" lengthAdjust="spacingAndGlyphs">Rencontres cycle</text>
<text x="602.2" y="636.4" textLength="246.6" lengthAdjust="spacingAndGlyphs">Spécialistes (TES, orthopédagogue, orthophoniste)</text>
<text x="684.2" y="657.4" textLength="162.1" lengthAdjust="spacingAndGlyphs">Partage d&#x27;idées et de ressources</text>
<text x="967.2" y="706.4" textLength="32.6" lengthAdjust="spacingAndGlyphs">Élèves</text>
<text x="862.2" y="696.4" textLength="77.1" lengthAdjust="spacingAndGlyphs">Travail d&#x27;équipe</text>
<text x="730.2" y="696.4" textLength="104.1" lengthAdjust="spacingAndGlyphs">Socioconstructivisme</text>
<text x="640.2" y="696.4" textLength="62.6" lengthAdjust="spacingAndGlyphs">Lev Vygotski</text>
<text x="888.2" y="717.4" textLength="51.1" lengthAdjust="spacingAndGlyphs">Pair aidant</text>
<text x="1007.2" y="759.4" textLength="29.6" lengthAdjust="spacingAndGlyphs">Plaisir</text>
<text x="753.2" y="753.4" textLength="51.6" lengthAdjust="spacingAndGlyphs">Motivation</text>
<text x="684.2" y="753.4" textLength="44.6" lengthAdjust="spacingAndGlyphs">Intérêts</text>
<text x="524.2" y="753.4" textLength="132.6" lengthAdjust="spacingAndGlyphs">Accomplissement personnel</text>
<text x="1017.2" y="799.4" textLength="36.4" lengthAdjust="spacingAndGlyphs">Rigueur</text>
<text class="mt" x="1088.5" y="1077.8" text-anchor="middle" textLength="86.9" lengthAdjust="spacingAndGlyphs">Vivre ensemble</text>
<text x="916.2" y="955.4" textLength="102.6" lengthAdjust="spacingAndGlyphs">Gestion participative</text>
<text x="813.2" y="933.4" textLength="75.6" lengthAdjust="spacingAndGlyphs">Responsabilités</text>
<text x="694.2" y="933.4" textLength="90.1" lengthAdjust="spacingAndGlyphs">Cohésion du groupe</text>
<text x="808.2" y="954.4" textLength="80.6" lengthAdjust="spacingAndGlyphs">Jacqueline Caron</text>
<text x="786.2" y="978.4" textLength="102.6" lengthAdjust="spacingAndGlyphs">Système d&#x27;émulation</text>
<text x="953.2" y="1053.4" textLength="64.6" lengthAdjust="spacingAndGlyphs">Règles de vie</text>
<text x="860.2" y="1018.4" textLength="67.6" lengthAdjust="spacingAndGlyphs">Démocratique</text>
<text x="790.2" y="1018.4" textLength="45.6" lengthAdjust="spacingAndGlyphs">Modelage</text>
<text x="727.2" y="1018.4" textLength="36.6" lengthAdjust="spacingAndGlyphs">Giasson</text>
<text x="251.3" y="1010.9" textLength="436.8" lengthAdjust="spacingAndGlyphs">L&#x27;enseignant joue un rôle de « lecteur accompli pouvant servir de modèle et de guide pour</text>
<text x="251.3" y="1026.7" textLength="137" lengthAdjust="spacingAndGlyphs">ses élèves (Giasson, 2011). »</text>
<text x="728.2" y="1052.4" textLength="197.6" lengthAdjust="spacingAndGlyphs">Établir des limites claires et réalisables</text>
<text x="642.2" y="1052.4" textLength="58.6" lengthAdjust="spacingAndGlyphs">Égide Royer</text>
<text x="867.2" y="1089.4" textLength="58.6" lengthAdjust="spacingAndGlyphs">Égide Royer</text>
<text x="390.3" y="1073.9" textLength="379.8" lengthAdjust="spacingAndGlyphs">« […] il demeure important de faire participer le plus tôt possible ces élèves à</text>
<text x="390.3" y="1089.7" textLength="437.5" lengthAdjust="spacingAndGlyphs">l&#x27;établissement et à la définition des règles qui vont les aider à baliser leur vie de groupe,</text>
<text x="390.3" y="1105.4" textLength="355.6" lengthAdjust="spacingAndGlyphs">que ce soit en classe ou dans l&#x27;ensemble de l&#x27;école (Égide Royer, 1997). »</text>
<text x="906.2" y="1147.4" textLength="110.6" lengthAdjust="spacingAndGlyphs">Résolutions de conflits</text>
<text x="790.2" y="1139.4" textLength="89.6" lengthAdjust="spacingAndGlyphs">Habiletés sociales</text>
<text x="798.2" y="1160.4" textLength="80.6" lengthAdjust="spacingAndGlyphs">Jacqueline Caron</text>
<text x="853.2" y="1212.4" textLength="167.6" lengthAdjust="spacingAndGlyphs">Climat de sécurité et de confiance</text>
<text x="696.2" y="1196.4" textLength="128.6" lengthAdjust="spacingAndGlyphs">Discuter de leurs craintes</text>
<text x="754.2" y="1225.4" textLength="71.6" lengthAdjust="spacingAndGlyphs">L&#x27;attachement</text>
<text x="482.2" y="1225.4" textLength="244.6" lengthAdjust="spacingAndGlyphs">Bowlby et Ainsworth (la théorie de l&#x27;attachement)</text>
<text x="6.3" y="1217.9" textLength="439.6" lengthAdjust="spacingAndGlyphs">« L&#x27;attachement apporte à l&#x27;enfant un sentiment de sécurité et de confiance et il atténue</text>
<text x="6.3" y="1233.7" textLength="199.4" lengthAdjust="spacingAndGlyphs">ses peurs (Bowlby et Ainsworth, 1978). »</text>
<text x="919.2" y="1254.4" textLength="98.6" lengthAdjust="spacingAndGlyphs">Techniques d&#x27;impact</text>
<text x="822.2" y="1254.4" textLength="70.1" lengthAdjust="spacingAndGlyphs">Danie Beaulieu</text>
<text class="mt" x="1091" y="1334.8" text-anchor="middle" textLength="97" lengthAdjust="spacingAndGlyphs">Curriculum caché</text>
<text x="954.2" y="1311.4" textLength="61.6" lengthAdjust="spacingAndGlyphs">Organisation</text>
<text x="809.2" y="1311.4" textLength="117.6" lengthAdjust="spacingAndGlyphs">Être en ordre et propre</text>
<text x="749.2" y="1311.4" textLength="33.6" lengthAdjust="spacingAndGlyphs">Bureau</text>
<text x="691.2" y="1311.4" textLength="30.6" lengthAdjust="spacingAndGlyphs">Classe</text>
<text x="877.2" y="1335.4" textLength="137.6" lengthAdjust="spacingAndGlyphs">Développer sa persévérance</text>
<text x="703.2" y="1335.4" textLength="146.6" lengthAdjust="spacingAndGlyphs">Fournir des efforts constants</text>
<text x="469.7" y="1335.4" textLength="206.1" lengthAdjust="spacingAndGlyphs">« Quand on peut, on veut (Prawat, 1989). »</text>
<text x="856.2" y="1359.4" textLength="161.6" lengthAdjust="spacingAndGlyphs">Développer le plaisir d&#x27;apprendre</text>
<text x="784.2" y="1359.4" textLength="44.6" lengthAdjust="spacingAndGlyphs">Curiosité</text>
</g>
<g id="relations">
<path class="k" d="M1438.5 45.5 C1432.0 54.7 1425.7 64.5 1419.0 73.0 C1412.8 80.9 1408.8 86.5 1400.0 95.0 C1384.9 109.7 1358.4 132.5 1333.0 150.0 C1303.7 170.1 1269.1 188.2 1233.0 207.0 C1192.2 228.3 1144.3 249.0 1100.0 270.0 C1055.7 291.0 1003.6 314.5 967.0 333.0 C940.7 346.3 927.7 355.5 900.0 369.0 C857.1 390.0 785.2 418.3 733.0 443.0 C685.9 465.3 640.7 487.0 600.0 510.0 C563.8 530.5 522.4 551.9 500.0 573.0 C485.2 587.0 475.5 603.7 470.0 615.0 C466.8 621.6 465.3 626.1 465.0 632.0 C464.7 638.4 466.1 646.0 469.0 652.0 C472.0 658.1 476.3 663.2 483.0 668.0 C492.9 675.1 510.7 680.3 526.0 686.0 C542.9 692.3 562.1 698.2 580.0 704.0 C597.6 709.7 613.8 715.3 632.5 720.5 C653.5 726.4 679.5 732.7 700.0 737.0 C716.9 740.5 731.0 742.3 746.5 745.0"/>
<path class="a" d="M1438.5 45.5 L1436.4 55 L1430.2 50.6 Z"/>
<path class="a" d="M746.5 745 L737 747.2 L738.3 739.7 Z"/>
<path class="k" d="M808.5 540.7 C783.3 541.5 759.9 540.7 733.0 543.0 C701.9 545.6 665.9 548.9 633.0 557.0 C599.2 565.3 559.8 578.7 533.0 593.0 C512.5 604.0 494.7 617.6 483.0 630.0 C474.6 638.9 466.6 648.4 465.5 657.0 C464.6 663.9 468.1 671.4 472.0 677.0 C476.1 682.8 482.6 687.0 490.0 691.0 C499.6 696.2 512.7 699.4 526.0 703.5 C542.1 708.5 562.1 713.4 580.0 718.0 C597.6 722.5 613.8 727.2 632.5 731.0 C653.5 735.2 679.6 738.8 700.0 741.5 C716.9 743.7 731.0 744.8 746.5 746.5"/>
<path class="a" d="M808.5 540.7 L799.6 544.8 L799.4 537.2 Z"/>
<path class="a" d="M746.5 746.5 L737.1 749.3 L738 741.8 Z"/>
<path class="k" d="M808.5 546.0 C804.7 547.2 800.2 547.3 797.0 549.5 C793.8 551.7 789.4 556.0 789.5 559.0 C789.6 561.9 793.4 565.6 797.0 567.5 C802.0 570.1 811.3 569.2 818.5 570.0"/>
<path class="a" d="M808.5 546 L801 552.3 L798.8 545 Z"/>
<path class="a" d="M818.5 570 L809.1 572.7 L810 565.2 Z"/>
<path class="k" d="M1029.5 512.3 C1008.7 512.5 990.3 512.1 967.0 513.0 C937.5 514.2 900.3 516.3 867.0 520.0 C833.6 523.7 800.2 528.4 767.0 535.0 C733.5 541.7 700.1 549.8 667.0 560.0 C633.4 570.4 598.8 583.0 567.0 597.0 C536.6 610.4 500.3 625.2 480.0 642.0 C465.7 653.8 457.2 666.5 450.0 680.0 C443.3 692.6 440.0 706.5 437.0 720.0 C434.1 733.2 431.2 746.7 432.0 760.0 C432.8 773.7 436.6 787.0 442.0 801.0 C448.3 817.3 458.6 834.6 469.5 851.0 C481.3 868.8 496.5 888.3 511.0 903.6 C524.1 917.4 536.8 928.1 552.0 939.5 C568.7 952.0 588.6 965.1 607.6 975.0 C625.7 984.4 643.9 990.7 663.0 998.0 C683.0 1005.7 702.6 1013.7 725.0 1020.0 C750.4 1027.2 779.5 1033.0 808.0 1037.5 C837.8 1042.2 874.5 1045.0 900.0 1047.0 C918.1 1048.4 931.0 1048.7 946.5 1049.5"/>
<path class="a" d="M1029.5 512.3 L1020.5 516.2 L1020.5 508.6 Z"/>
<path class="a" d="M946.5 1049.5 L937.3 1052.8 L937.7 1045.2 Z"/>
<path class="k" d="M886.5 447.5 C861.0 455.3 835.5 462.9 810.0 471.0 C784.3 479.1 759.0 486.9 733.0 496.0 C705.8 505.5 677.5 515.9 650.0 527.0 C622.2 538.2 594.4 548.2 567.0 563.0 C537.7 578.8 507.6 598.6 480.0 620.0 C451.9 641.8 427.2 669.6 400.0 693.0 C373.1 716.2 339.6 741.4 317.6 760.0 C302.5 772.8 291.6 781.4 280.0 793.0 C268.6 804.4 257.0 816.5 248.5 829.0 C240.7 840.5 234.7 853.0 230.0 865.0 C225.7 876.0 223.1 886.6 221.0 898.0 C218.8 909.9 217.8 922.8 217.5 935.0 C217.2 946.8 217.2 958.2 219.0 970.0 C220.9 982.6 224.7 996.7 229.0 1008.5 C232.9 1019.2 237.5 1028.7 243.0 1038.0 C248.5 1047.2 254.4 1055.6 262.0 1064.0 C270.7 1073.6 281.7 1083.5 293.0 1092.0 C304.7 1100.9 317.0 1108.2 331.0 1116.0 C347.2 1125.0 366.5 1134.3 385.0 1142.0 C403.5 1149.7 420.6 1155.4 442.0 1162.0 C468.7 1170.2 501.7 1179.7 533.0 1186.0 C565.6 1192.5 600.4 1196.7 634.0 1200.0 C667.1 1203.2 698.9 1204.1 733.0 1205.5 C769.5 1207.0 808.7 1207.5 846.5 1208.5"/>
<path class="a" d="M846.5 1208.5 L837.4 1212.1 L837.6 1204.5 Z"/>
<path class="k" d="M888.0 447.0 C947.7 430.7 1008.4 413.3 1067.0 398.0 C1123.3 383.3 1177.6 371.0 1233.0 357.0 C1288.6 343.0 1344.3 328.3 1400.0 314.0 C1455.7 299.7 1510.4 285.3 1567.0 271.0 C1625.4 256.3 1687.6 241.6 1745.0 227.0 C1799.0 213.3 1849.7 199.7 1902.0 186.0"/>
<path class="a" d="M1902 186 L1894.3 192 L1892.3 184.6 Z"/>
<path class="k" d="M886.0 447.0 C868.3 441.3 849.7 435.8 833.0 430.0 C817.9 424.8 802.1 419.3 790.0 414.0 C780.7 410.0 771.1 406.2 766.0 402.0 C762.9 399.4 759.6 396.4 760.0 394.0 C760.4 391.3 765.5 388.7 770.0 387.0 C777.1 384.4 788.0 384.7 800.0 384.0 C817.9 383.0 843.5 382.8 867.0 383.0 C893.2 383.3 920.0 384.6 950.0 386.0 C985.7 387.7 1024.7 389.3 1067.0 393.0 C1117.6 397.4 1177.6 405.3 1233.0 412.0 C1288.6 418.7 1344.4 425.5 1400.0 433.0 C1455.7 440.5 1510.5 447.7 1567.0 457.0 C1625.5 466.6 1694.2 480.2 1745.0 490.0 C1783.1 497.3 1811.8 502.2 1845.0 510.0 C1878.5 517.9 1916.9 527.4 1945.0 537.0 C1966.3 544.3 1988.4 550.7 2000.0 560.0 C2007.4 566.0 2014.0 573.3 2014.0 580.0 C2014.0 586.7 2007.5 594.3 2000.0 600.0 C1988.4 608.9 1966.4 614.8 1945.0 620.0 C1916.9 626.8 1874.1 629.3 1845.0 633.0 C1822.5 635.9 1805.0 638.0 1785.0 640.5"/>
<path class="a" d="M886 447 L876.3 447.9 L878.6 440.6 Z"/>
<path class="a" d="M1785 640.5 L1793.5 635.6 L1794.4 643.2 Z"/>
<path class="k" d="M805.0 468.0 C836.7 482.0 864.0 493.7 900.0 510.0 C947.9 531.6 1010.4 561.2 1067.0 587.0 C1125.3 613.6 1194.6 641.6 1245.0 667.0 C1283.6 686.4 1311.3 703.1 1345.0 723.0 C1380.3 743.9 1417.9 767.1 1452.0 790.0 C1484.5 811.8 1517.6 832.7 1545.0 857.0 C1570.5 879.6 1596.7 907.2 1612.0 930.0 C1623.0 946.5 1630.0 962.4 1634.0 977.0 C1637.2 988.7 1638.6 1000.2 1637.0 1010.0 C1635.6 1018.6 1630.2 1026.9 1627.0 1033.0 C1624.8 1037.3 1622.7 1040.0 1620.5 1043.5"/>
<path class="a" d="M805 468 L814.8 468.2 L811.7 475.1 Z"/>
<path class="a" d="M1620.5 1043.5 L1622 1033.8 L1628.5 1037.8 Z"/>
<path class="k" d="M878.5 682.0 C873.0 678.0 867.1 674.5 862.0 670.0 C856.9 665.5 851.2 660.7 848.0 655.0 C845.0 649.6 842.6 642.9 843.0 637.0 C843.3 631.2 846.4 625.3 850.0 620.0 C854.1 613.9 859.9 608.0 867.0 603.0 C875.8 596.9 888.9 592.4 900.0 588.0 C910.9 583.7 921.4 580.4 933.0 577.0 C945.6 573.3 956.9 571.1 973.0 567.0 C997.7 560.7 1036.5 549.6 1067.0 543.0 C1095.4 536.8 1121.3 532.2 1150.0 528.0 C1180.5 523.5 1212.9 519.7 1245.0 517.0 C1277.9 514.3 1311.7 512.0 1345.0 512.0 C1378.3 512.0 1415.1 514.0 1445.0 517.0 C1469.6 519.4 1495.9 521.4 1512.0 527.0 C1522.1 530.5 1530.0 534.6 1535.0 540.0 C1539.0 544.3 1542.4 550.0 1542.0 555.0 C1541.5 560.6 1535.6 566.3 1530.0 572.0 C1522.2 580.0 1508.3 588.3 1497.5 596.5"/>
<path class="a" d="M878.5 682 L869 679.8 L873.5 673.6 Z"/>
<path class="a" d="M1497.5 596.5 L1502.4 588 L1507 594.1 Z"/>
<path class="k" d="M947.0 643.5 C931.3 651.3 915.6 658.0 900.0 667.0 C883.3 676.6 863.9 686.5 850.0 700.0 C836.4 713.2 825.2 731.1 817.0 747.0 C809.7 761.2 804.6 777.4 802.0 790.0 C800.0 799.3 798.6 806.6 800.0 815.0 C801.5 824.3 807.1 834.0 812.0 843.0 C817.0 852.3 822.6 861.4 830.0 870.0 C838.3 879.5 848.8 888.8 860.0 897.0 C872.0 905.9 886.8 913.6 900.0 921.0 C912.6 928.0 925.0 934.0 937.5 940.5"/>
<path class="a" d="M947 643.5 L940.6 650.9 L937.3 644.1 Z"/>
<path class="a" d="M937.5 940.5 L927.8 939.7 L931.3 933 Z"/>
<path class="k" d="M1048.0 678.5 C1059.7 690.0 1070.6 699.6 1083.0 713.0 C1098.6 729.9 1120.9 754.0 1133.0 773.0 C1142.4 787.6 1148.5 800.4 1153.0 815.0 C1157.5 829.4 1159.6 846.1 1160.0 860.0 C1160.4 871.8 1159.9 883.4 1157.0 893.0 C1154.5 901.4 1150.8 908.8 1145.0 915.0 C1138.7 921.7 1130.3 926.4 1120.0 931.0 C1106.0 937.3 1083.6 942.5 1067.0 946.0 C1052.7 949.0 1040.0 949.7 1026.5 951.5"/>
<path class="a" d="M1048 678.5 L1057.1 682.1 L1051.7 687.5 Z"/>
<path class="a" d="M1026.5 951.5 L1034.9 946.5 L1035.9 954.1 Z"/>
<path class="k" d="M1046.5 745.0 C1048.7 746.2 1050.8 747.2 1053.0 748.7 C1055.6 750.4 1058.6 752.4 1061.0 755.0 C1063.6 757.8 1065.8 761.4 1068.0 765.0 C1070.5 769.0 1072.8 773.5 1075.0 778.0 C1077.2 782.5 1078.9 786.4 1081.0 792.0 C1084.1 800.2 1087.5 812.2 1091.0 823.0 C1094.8 834.8 1099.7 846.0 1103.0 860.0 C1107.1 877.4 1109.7 899.2 1112.0 920.0 C1114.5 942.4 1116.6 964.6 1117.0 990.0 C1117.5 1020.4 1114.8 1060.5 1113.0 1090.0 C1111.6 1113.4 1110.9 1130.6 1108.0 1153.0 C1104.6 1178.8 1099.5 1212.2 1093.0 1236.0 C1087.9 1254.7 1082.1 1271.0 1075.0 1285.0 C1069.1 1296.6 1062.8 1306.7 1055.0 1315.0 C1047.7 1322.8 1039.0 1328.9 1030.0 1334.0 C1021.0 1339.1 1010.7 1341.7 1001.0 1345.5"/>
<path class="a" d="M1046.5 745 L1056.2 746.1 L1052.4 752.8 Z"/>
<path class="a" d="M1001 1345.5 L1008 1338.6 L1010.8 1345.7 Z"/>
<path class="k" d="M1061.5 795.5 C1074.3 795.7 1086.3 795.4 1100.0 796.0 C1115.6 796.7 1131.8 797.2 1150.0 800.0 C1172.6 803.4 1203.8 808.3 1225.0 817.0 C1242.6 824.2 1258.8 832.6 1270.0 845.0 C1280.9 857.1 1287.4 875.9 1292.0 890.0 C1295.8 901.6 1297.4 912.0 1298.0 923.0 C1298.6 933.7 1298.0 943.1 1296.0 955.0 C1293.3 970.6 1287.3 990.6 1281.0 1008.0 C1274.6 1025.6 1267.0 1044.2 1258.0 1060.0 C1249.6 1074.7 1239.7 1086.9 1229.4 1100.0 C1218.7 1113.6 1206.4 1126.7 1195.0 1140.0 C1183.6 1153.3 1173.1 1166.7 1161.0 1180.0 C1148.2 1194.1 1134.2 1208.4 1120.0 1222.0 C1105.6 1235.8 1091.5 1249.5 1075.0 1262.0 C1057.4 1275.3 1035.6 1288.8 1017.0 1299.0 C1001.0 1307.8 986.0 1313.3 970.5 1320.5"/>
<path class="a" d="M1061.5 795.5 L1070.5 791.8 L1070.4 799.4 Z"/>
<path class="a" d="M970.5 1320.5 L977.1 1313.3 L980.3 1320.2 Z"/>
<path class="k" d="M1549.5 333.5 C1554.7 339.7 1560.8 343.9 1565.0 352.0 C1570.8 363.3 1574.3 383.1 1577.0 397.0 C1579.3 408.8 1580.8 419.0 1581.0 430.0 C1581.2 441.0 1579.8 450.1 1578.0 463.0 C1575.4 481.5 1570.5 507.8 1565.0 530.0 C1559.5 552.5 1553.7 575.1 1545.0 597.0 C1536.1 619.5 1523.1 640.9 1512.0 663.0 C1500.8 685.3 1490.5 708.6 1478.0 730.0 C1465.8 750.9 1451.7 768.4 1438.0 790.0 C1422.4 814.6 1407.2 842.8 1390.0 870.0 C1371.4 899.3 1348.1 930.8 1330.0 960.0 C1313.5 986.7 1301.1 1014.0 1285.0 1038.0 C1270.0 1060.4 1254.3 1078.1 1237.0 1100.0 C1217.1 1125.1 1190.2 1157.6 1172.0 1180.0 C1158.8 1196.2 1151.3 1208.3 1138.0 1222.0 C1122.9 1237.7 1103.8 1254.1 1085.0 1268.0 C1066.0 1282.1 1044.7 1293.3 1024.5 1306.0"/>
<path class="a" d="M1549.5 333.5 L1558.2 338 L1552.4 342.8 Z"/>
<path class="a" d="M1024.5 1306 L1030.1 1298 L1034.1 1304.4 Z"/>
<path class="k" d="M1421.0 197.0 C1414.0 202.3 1405.9 205.6 1400.0 213.0 C1392.7 222.2 1387.1 236.4 1383.0 250.0 C1378.4 265.1 1376.7 282.1 1375.0 300.0 C1373.0 320.6 1373.0 344.8 1373.0 367.0 C1373.0 389.1 1374.3 408.9 1375.0 433.0 C1375.9 462.2 1375.2 497.5 1378.0 530.0 C1380.8 563.2 1386.4 596.7 1392.0 630.0 C1397.7 663.4 1404.3 701.1 1412.0 730.0 C1418.0 752.8 1426.6 769.3 1432.0 790.0 C1437.7 811.5 1438.2 833.8 1445.0 857.0 C1452.8 883.5 1466.1 914.6 1478.0 940.0 C1488.6 962.8 1499.6 985.4 1512.0 1003.0 C1522.3 1017.7 1533.9 1030.6 1545.0 1040.0 C1553.9 1047.5 1564.5 1054.0 1572.0 1057.0 C1576.8 1058.9 1580.3 1058.7 1584.5 1059.5"/>
<path class="a" d="M1421 197 L1416.1 205.5 L1411.5 199.4 Z"/>
<path class="a" d="M1584.5 1059.5 L1574.9 1061.5 L1576.4 1054 Z"/>
<path class="k" d="M1423.0 383.5 C1415.3 400.0 1408.0 417.9 1400.0 433.0 C1392.9 446.4 1385.7 455.5 1378.0 470.0 C1367.7 489.4 1355.5 515.0 1345.0 540.0 C1333.3 567.9 1320.0 598.8 1312.0 630.0 C1303.8 662.1 1299.9 700.8 1297.0 730.0 C1294.8 752.5 1294.2 769.4 1294.0 790.0 C1293.8 811.7 1294.1 835.1 1296.0 857.0 C1297.8 878.4 1299.3 900.6 1305.0 920.0 C1310.3 938.0 1318.3 954.9 1328.0 970.0 C1337.4 984.8 1348.4 999.0 1362.0 1010.0 C1376.2 1021.5 1393.7 1030.1 1412.0 1037.0 C1432.0 1044.5 1455.8 1048.9 1478.0 1052.0 C1500.1 1055.1 1525.6 1055.5 1545.0 1055.5 C1559.9 1055.5 1571.3 1054.2 1584.5 1053.5"/>
<path class="a" d="M1423 383.5 L1422.7 393.3 L1415.8 390.1 Z"/>
<path class="a" d="M1584.5 1053.5 L1575.7 1057.8 L1575.3 1050.2 Z"/>
<path class="k" d="M1717.0 443.0 C1694.7 451.0 1672.7 458.7 1650.0 467.0 C1626.4 475.7 1606.9 482.8 1578.0 494.0 C1534.0 511.0 1467.0 535.9 1412.0 560.0 C1356.0 584.5 1295.0 615.5 1245.0 640.0 C1203.9 660.1 1163.3 680.9 1133.0 696.0 C1112.3 706.3 1097.8 713.4 1080.6 722.0 C1063.8 730.4 1044.4 740.3 1031.0 747.0 C1021.9 751.5 1017.0 753.6 1008.0 758.3 C994.8 765.2 977.0 775.9 960.0 785.0 C941.2 795.1 922.4 805.7 900.0 816.0 C872.9 828.4 839.9 839.3 808.0 853.0 C772.6 868.3 730.7 885.3 697.0 904.0 C666.6 920.9 639.7 939.0 614.0 959.0 C589.1 978.4 563.7 999.0 545.0 1022.0 C527.7 1043.3 512.5 1068.9 504.0 1091.0 C497.1 1108.9 493.2 1128.5 493.5 1143.0 C493.7 1153.5 495.5 1162.5 500.0 1170.0 C504.4 1177.4 511.6 1183.0 520.0 1188.0 C530.6 1194.3 544.4 1198.0 560.0 1202.0 C580.7 1207.3 607.5 1210.9 634.0 1214.0 C664.5 1217.5 702.1 1220.5 733.0 1221.0 C760.3 1221.4 789.2 1219.7 810.0 1218.0 C824.3 1216.8 834.0 1215.0 846.0 1213.5"/>
<path class="a" d="M1717 443 L1709.8 449.6 L1707.2 442.5 Z"/>
<path class="a" d="M846 1213.5 L837.5 1218.4 L836.6 1210.8 Z"/>
<path class="k" d="M1000.0 756.5 C983.3 757.0 966.6 756.9 950.0 758.0 C933.3 759.1 919.2 760.6 900.0 763.0 C873.9 766.3 837.7 770.5 808.0 777.0 C779.4 783.3 752.2 790.3 725.0 801.0 C696.8 812.1 669.2 827.2 642.0 843.0 C613.8 859.4 583.0 878.4 559.0 898.0 C537.8 915.3 520.1 932.6 504.0 953.0 C487.6 973.8 472.8 998.3 462.0 1022.0 C451.8 1044.4 444.3 1070.2 440.0 1091.0 C436.6 1107.4 435.1 1120.6 435.5 1136.0 C435.9 1152.3 438.0 1169.7 443.0 1186.0 C448.2 1203.1 455.5 1221.0 467.0 1236.0 C479.5 1252.3 497.1 1266.8 517.0 1279.0 C540.2 1293.2 570.6 1303.7 600.0 1313.0 C631.4 1323.0 666.5 1329.7 700.0 1336.0 C733.2 1342.3 772.6 1347.8 800.0 1351.0 C819.0 1353.2 832.3 1353.7 848.5 1355.0"/>
<path class="a" d="M1000 756.5 L991.1 760.6 L990.9 753 Z"/>
<path class="a" d="M848.5 1355 L839.2 1358 L839.8 1350.5 Z"/>
<path class="k" d="M1751.0 188.7 C1774.0 189.0 1796.8 189.0 1820.0 189.5 C1843.5 190.0 1865.3 190.1 1891.0 192.0 C1921.5 194.2 1961.3 196.2 1991.0 203.0 C2015.9 208.8 2040.1 217.7 2058.0 227.0 C2071.5 234.0 2083.4 240.6 2091.0 250.0 C2097.7 258.3 2102.5 268.6 2103.0 279.0 C2103.5 290.7 2097.5 304.5 2091.0 317.0 C2083.4 331.6 2071.9 345.4 2058.0 360.0 C2040.3 378.6 2016.6 399.6 1991.0 417.0 C1961.9 436.7 1923.6 452.9 1891.0 470.0 C1860.0 486.2 1832.8 501.2 1800.0 517.0 C1762.5 535.1 1716.6 554.2 1678.0 572.0 C1642.9 588.1 1611.3 603.0 1578.0 619.0 C1544.6 635.0 1511.2 650.9 1478.0 668.0 C1444.5 685.2 1413.6 702.2 1378.0 722.0 C1336.7 745.0 1283.5 776.4 1245.0 798.0 C1215.6 814.5 1194.7 826.2 1167.0 841.0 C1135.8 857.7 1103.4 876.2 1067.0 893.0 C1025.3 912.3 960.8 933.3 930.0 949.0 C913.3 957.5 907.9 963.0 893.0 972.0 C870.5 985.6 836.1 1005.3 808.0 1022.0 C780.1 1038.6 752.6 1055.0 725.0 1072.0 C697.3 1089.0 666.7 1107.8 642.0 1124.0 C621.6 1137.4 604.5 1147.0 587.0 1162.0 C568.0 1178.3 546.4 1200.5 533.0 1219.0 C522.5 1233.6 513.0 1247.7 510.0 1262.0 C507.4 1274.7 507.5 1290.4 513.0 1300.0 C518.1 1309.0 528.6 1313.7 540.0 1319.0 C555.6 1326.3 579.3 1330.9 600.0 1335.0 C621.6 1339.3 642.4 1341.2 667.0 1344.0 C697.0 1347.4 735.3 1350.9 767.0 1353.0 C795.5 1354.9 821.3 1355.3 848.5 1356.5"/>
<path class="a" d="M1751 188.7 L1760 185 L1760 192.6 Z"/>
<path class="a" d="M848.5 1356.5 L839.3 1359.9 L839.7 1352.3 Z"/>
<path class="k" d="M1751.0 188.3 C1774.0 188.5 1796.8 188.5 1820.0 189.0 C1843.5 189.5 1863.7 189.1 1891.0 191.5 C1928.5 194.8 1979.8 201.5 2024.0 210.0 C2068.8 218.6 2113.7 229.8 2158.0 243.0 C2202.7 256.4 2247.3 271.3 2291.0 290.0 C2336.0 309.2 2383.6 332.9 2424.0 357.0 C2460.6 378.9 2495.2 401.7 2524.0 427.0 C2550.0 449.8 2572.3 474.4 2591.0 500.0 C2608.5 523.9 2624.4 551.7 2634.0 575.0 C2641.6 593.4 2645.5 611.3 2648.0 627.0 C2650.1 639.7 2650.8 649.5 2650.0 662.0 C2649.0 676.8 2647.0 693.8 2641.0 710.0 C2634.0 728.8 2621.7 749.9 2608.0 767.0 C2594.1 784.3 2576.7 799.1 2558.0 813.0 C2538.0 827.9 2516.2 840.9 2491.0 853.0 C2461.6 867.1 2424.7 879.9 2391.0 890.0 C2358.0 899.9 2326.9 907.0 2291.0 913.0 C2250.0 919.8 2202.5 925.8 2158.0 927.0 C2113.5 928.2 2066.6 923.6 2024.0 920.0 C1984.9 916.7 1946.9 911.9 1912.0 907.0 C1881.2 902.6 1854.3 897.3 1825.5 892.5"/>
<path class="a" d="M1751 188.3 L1760 184.6 L1760 192.2 Z"/>
<path class="a" d="M1825.5 892.5 L1835 890.2 L1833.7 897.7 Z"/>
<path class="k" d="M1668.0 566.3 C1693.7 566.5 1714.4 566.5 1745.0 566.8 C1790.0 567.3 1858.2 568.1 1912.0 569.5 C1962.3 570.9 2007.8 572.2 2058.0 575.0 C2111.6 577.9 2168.6 581.7 2224.0 587.0 C2279.6 592.3 2335.6 597.1 2391.0 607.0 C2447.0 617.0 2509.9 631.7 2558.0 647.0 C2596.1 659.1 2629.6 672.0 2658.0 687.0 C2681.3 699.2 2704.8 713.0 2718.0 727.0 C2727.1 736.7 2734.5 746.5 2735.5 757.0 C2736.5 767.5 2730.3 779.3 2724.0 790.0 C2716.5 802.8 2704.7 814.4 2691.0 827.0 C2673.2 843.3 2649.3 861.0 2624.0 877.0 C2594.6 895.6 2560.1 912.7 2524.0 930.0 C2483.2 949.5 2437.4 968.5 2391.0 987.0 C2341.1 1006.9 2288.5 1027.4 2234.0 1045.0 C2176.4 1063.6 2109.6 1079.6 2054.0 1095.0 C2006.0 1108.3 1962.4 1122.0 1920.0 1132.0 C1882.2 1140.9 1852.0 1145.9 1812.0 1153.0 C1762.4 1161.8 1700.8 1172.5 1645.0 1180.0 C1589.4 1187.5 1533.6 1193.5 1478.0 1198.0 C1422.6 1202.5 1361.9 1205.9 1312.0 1207.0 C1271.0 1207.9 1236.2 1208.0 1200.0 1206.0 C1165.7 1204.1 1129.9 1201.0 1100.0 1196.0 C1075.3 1191.8 1051.7 1186.1 1033.0 1180.0 C1018.9 1175.4 1006.8 1169.9 997.0 1165.0 C989.8 1161.4 985.0 1158.0 979.0 1154.5"/>
<path class="a" d="M1668 566.3 L1677 562.6 L1677 570.2 Z"/>
<path class="a" d="M979 1154.5 L988.7 1155.8 L984.9 1162.3 Z"/>
<path class="k" d="M1477.0 619.0 C1474.7 624.7 1473.3 630.4 1470.0 636.0 C1466.2 642.4 1461.9 648.3 1455.0 655.0 C1444.8 664.9 1428.6 677.8 1412.0 687.0 C1392.7 697.6 1369.6 703.7 1345.0 713.0 C1315.0 724.4 1279.9 738.5 1245.0 750.0 C1207.5 762.3 1158.0 771.9 1127.0 784.0 C1105.7 792.3 1095.4 800.9 1075.0 810.0 C1047.3 822.4 1003.0 836.4 975.0 850.0 C953.5 860.5 933.4 872.2 920.0 882.0 C911.3 888.4 903.6 894.1 900.0 900.0 C897.6 904.0 896.3 907.9 897.0 912.0 C897.9 917.2 902.1 922.6 908.0 928.0 C918.4 937.5 939.6 946.9 960.0 957.0 C987.6 970.6 1028.4 984.5 1060.0 1000.0 C1089.9 1014.6 1115.1 1032.4 1145.0 1047.0 C1176.6 1062.5 1209.1 1075.5 1245.0 1090.0 C1286.0 1106.5 1336.8 1124.6 1378.0 1140.0 C1413.7 1153.3 1440.3 1163.7 1478.0 1177.0 C1526.5 1194.1 1593.9 1214.4 1645.0 1233.0 C1689.1 1249.0 1739.4 1268.5 1767.0 1281.0 C1781.7 1287.7 1793.1 1291.9 1800.0 1298.0 C1804.3 1301.8 1808.4 1306.2 1808.0 1310.0 C1807.6 1313.9 1802.6 1318.0 1797.0 1321.0 C1787.2 1326.2 1768.0 1327.6 1750.0 1330.0 C1726.3 1333.2 1696.9 1334.8 1667.0 1336.5 C1632.0 1338.5 1591.0 1339.0 1553.0 1340.3"/>
<path class="a" d="M1477 619 L1477.1 628.8 L1470.1 625.9 Z"/>
<path class="a" d="M1553 1340.3 L1561.9 1336.2 L1562.1 1343.8 Z"/>
<path class="k" d="M746.5 755.0 C731.0 759.0 716.4 762.3 700.0 767.0 C681.2 772.4 656.6 780.6 640.0 786.0 C628.3 789.8 617.0 792.4 610.0 796.0 C605.7 798.2 600.5 800.6 600.5 803.0 C600.5 805.6 606.3 808.8 612.0 811.0 C623.5 815.5 646.8 817.0 669.0 819.0 C699.8 821.8 742.3 823.0 780.0 823.5 C819.2 824.0 856.7 822.9 900.0 822.0 C951.1 820.9 1010.5 819.4 1067.0 817.0 C1125.4 814.5 1190.0 809.7 1245.0 807.0 C1292.5 804.7 1333.6 803.8 1378.0 801.5 C1422.6 799.2 1467.5 796.9 1512.0 793.0 C1556.5 789.1 1610.4 783.7 1645.0 778.0 C1667.4 774.3 1685.9 770.4 1700.0 766.0 C1709.1 763.2 1718.7 760.6 1722.0 757.0 C1723.7 755.2 1724.7 752.7 1724.0 751.0 C1722.9 748.5 1717.2 746.8 1712.0 745.0 C1703.7 742.1 1690.4 739.8 1678.0 738.0 C1663.2 735.9 1645.3 735.3 1629.0 734.0"/>
<path class="a" d="M746.5 755 L738.7 760.9 L736.8 753.6 Z"/>
<path class="a" d="M1629 734 L1638.3 730.9 L1637.7 738.5 Z"/>
<path class="k" d="M1552.0 482.5 C1568.0 478.7 1584.2 474.5 1600.0 471.0 C1615.2 467.7 1627.0 465.0 1645.0 462.0 C1671.7 457.5 1718.0 451.9 1745.0 448.5 C1763.4 446.2 1776.0 444.8 1791.5 443.0"/>
<path class="a" d="M1791.5 443 L1783 447.8 L1782.1 440.3 Z"/>
</g>
<ellipse cx="1224.5" cy="926" rx="59.5" ry="23.8" fill="#FFFF80" stroke="#8c8a66" stroke-width="1.1"/>
<text x="1224.3" y="931.8" text-anchor="middle" textLength="98" lengthAdjust="spacingAndGlyphs" style="font-weight:bold;font-size:15.5px;fill:#0F8F88">Sarah Turmel</text>
</svg>
</body></html>
